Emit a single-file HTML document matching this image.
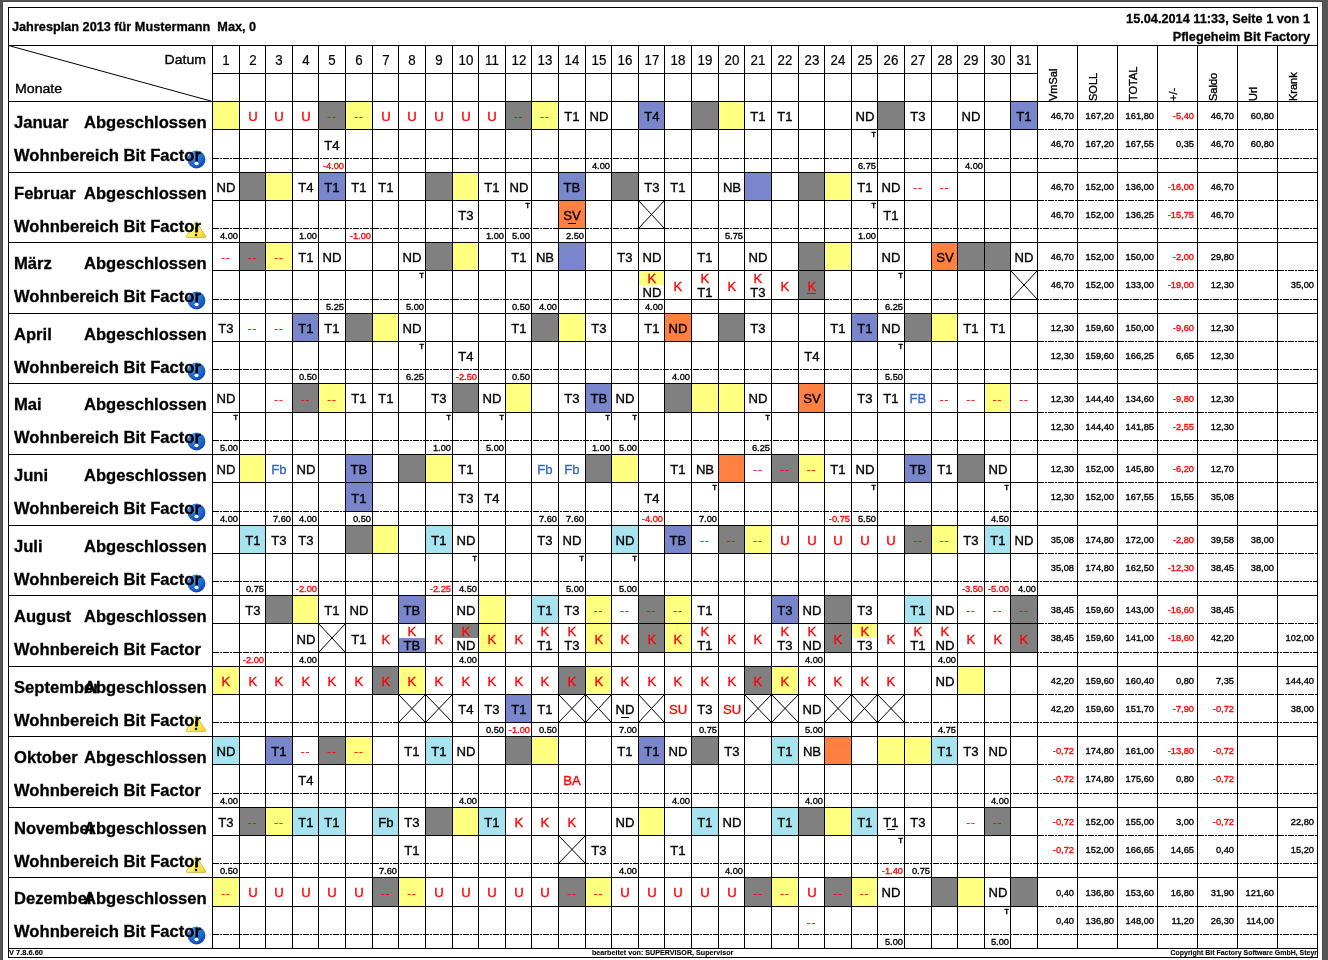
<!DOCTYPE html><html><head><meta charset="utf-8"><title>Jahresplan</title><style>html,body{margin:0;padding:0}
body{width:1328px;height:960px;background:#555;overflow:hidden;position:relative;font-family:"Liberation Sans",sans-serif;color:#000}
#pg{position:absolute;left:0;top:0;width:1328px;height:960px;will-change:transform}
.r{position:absolute}
.t{position:absolute;white-space:nowrap;-webkit-text-stroke:0.35px}
.s{-webkit-text-stroke:0.35px}
.b{-webkit-text-stroke:0.3px}
.f{-webkit-text-stroke:0.1px}
.m{-webkit-text-stroke:0.2px}
.n{-webkit-text-stroke:0;transform:scaleY(0.82)}
.d{position:absolute;height:1px;background:repeating-linear-gradient(90deg,#000 0,#000 6px,transparent 6px,transparent 7px,#000 7px,#000 9px,transparent 9px,transparent 10px)}
.rot{transform-origin:0 0;transform:rotate(-90deg) translate(0,-100%)}
u{text-decoration:underline;text-underline-offset:1.5px;text-decoration-thickness:1.1px}
</style></head><body><div id="pg"><div class="r" style="left:2px;top:1px;width:1321px;height:959px;background:#484848"></div>
<div class="r" style="left:3px;top:2px;width:1319px;height:958px;background:#fff"></div>
<div class="r" style="left:213px;top:102px;width:26px;height:27px;background:#ffff80"></div>
<div class="r" style="left:319px;top:102px;width:26px;height:27px;background:#808080"></div>
<div class="r" style="left:346px;top:102px;width:26px;height:27px;background:#ffff80"></div>
<div class="r" style="left:506px;top:102px;width:25px;height:27px;background:#808080"></div>
<div class="r" style="left:532px;top:102px;width:26px;height:27px;background:#ffff80"></div>
<div class="r" style="left:639px;top:102px;width:25px;height:27px;background:#7986cb"></div>
<div class="r" style="left:692px;top:102px;width:26px;height:27px;background:#808080"></div>
<div class="r" style="left:719px;top:102px;width:25px;height:27px;background:#ffff80"></div>
<div class="r" style="left:878px;top:102px;width:26px;height:27px;background:#808080"></div>
<div class="r" style="left:1011px;top:102px;width:26px;height:27px;background:#7986cb"></div>
<div class="r" style="left:240px;top:173px;width:25px;height:27px;background:#808080"></div>
<div class="r" style="left:266px;top:173px;width:26px;height:27px;background:#ffff80"></div>
<div class="r" style="left:319px;top:173px;width:26px;height:27px;background:#7986cb"></div>
<div class="r" style="left:426px;top:173px;width:26px;height:27px;background:#808080"></div>
<div class="r" style="left:453px;top:173px;width:25px;height:27px;background:#ffff80"></div>
<div class="r" style="left:559px;top:173px;width:26px;height:27px;background:#7986cb"></div>
<div class="r" style="left:612px;top:173px;width:26px;height:27px;background:#808080"></div>
<div class="r" style="left:745px;top:173px;width:26px;height:27px;background:#7986cb"></div>
<div class="r" style="left:799px;top:173px;width:25px;height:27px;background:#808080"></div>
<div class="r" style="left:825px;top:173px;width:26px;height:27px;background:#ffff80"></div>
<div class="r" style="left:559px;top:201px;width:26px;height:27px;background:#ff8040"></div>
<div class="r" style="left:240px;top:243px;width:25px;height:27px;background:#808080"></div>
<div class="r" style="left:266px;top:243px;width:26px;height:27px;background:#ffff80"></div>
<div class="r" style="left:426px;top:243px;width:26px;height:27px;background:#808080"></div>
<div class="r" style="left:453px;top:243px;width:25px;height:27px;background:#ffff80"></div>
<div class="r" style="left:559px;top:243px;width:26px;height:27px;background:#7986cb"></div>
<div class="r" style="left:799px;top:243px;width:25px;height:27px;background:#808080"></div>
<div class="r" style="left:825px;top:243px;width:26px;height:27px;background:#ffff80"></div>
<div class="r" style="left:932px;top:243px;width:25px;height:27px;background:#ff8040"></div>
<div class="r" style="left:958px;top:243px;width:26px;height:27px;background:#808080"></div>
<div class="r" style="left:985px;top:243px;width:25px;height:27px;background:#808080"></div>
<div class="r" style="left:639px;top:271px;width:25px;height:14px;background:#ffff80"></div>
<div class="r" style="left:799px;top:271px;width:25px;height:28px;background:#808080"></div>
<div class="r" style="left:293px;top:314px;width:25px;height:27px;background:#7986cb"></div>
<div class="r" style="left:346px;top:314px;width:26px;height:27px;background:#808080"></div>
<div class="r" style="left:373px;top:314px;width:25px;height:27px;background:#ffff80"></div>
<div class="r" style="left:532px;top:314px;width:26px;height:27px;background:#808080"></div>
<div class="r" style="left:559px;top:314px;width:26px;height:27px;background:#ffff80"></div>
<div class="r" style="left:665px;top:314px;width:26px;height:27px;background:#ff8040"></div>
<div class="r" style="left:719px;top:314px;width:25px;height:27px;background:#808080"></div>
<div class="r" style="left:852px;top:314px;width:25px;height:27px;background:#7986cb"></div>
<div class="r" style="left:905px;top:314px;width:26px;height:27px;background:#808080"></div>
<div class="r" style="left:932px;top:314px;width:25px;height:27px;background:#ffff80"></div>
<div class="r" style="left:293px;top:384px;width:25px;height:28px;background:#808080"></div>
<div class="r" style="left:319px;top:384px;width:26px;height:28px;background:#ffff80"></div>
<div class="r" style="left:453px;top:384px;width:25px;height:28px;background:#808080"></div>
<div class="r" style="left:506px;top:384px;width:25px;height:28px;background:#ffff80"></div>
<div class="r" style="left:586px;top:384px;width:25px;height:28px;background:#7986cb"></div>
<div class="r" style="left:665px;top:384px;width:26px;height:28px;background:#808080"></div>
<div class="r" style="left:692px;top:384px;width:26px;height:28px;background:#ffff80"></div>
<div class="r" style="left:719px;top:384px;width:25px;height:28px;background:#ffff80"></div>
<div class="r" style="left:799px;top:384px;width:25px;height:28px;background:#ff8040"></div>
<div class="r" style="left:985px;top:384px;width:25px;height:28px;background:#ffff80"></div>
<div class="r" style="left:240px;top:455px;width:25px;height:27px;background:#ffff80"></div>
<div class="r" style="left:346px;top:455px;width:26px;height:27px;background:#7986cb"></div>
<div class="r" style="left:399px;top:455px;width:26px;height:27px;background:#808080"></div>
<div class="r" style="left:426px;top:455px;width:26px;height:27px;background:#ffff80"></div>
<div class="r" style="left:586px;top:455px;width:25px;height:27px;background:#808080"></div>
<div class="r" style="left:612px;top:455px;width:26px;height:27px;background:#ffff80"></div>
<div class="r" style="left:719px;top:455px;width:25px;height:27px;background:#ff8040"></div>
<div class="r" style="left:772px;top:455px;width:26px;height:27px;background:#808080"></div>
<div class="r" style="left:799px;top:455px;width:25px;height:27px;background:#ffff80"></div>
<div class="r" style="left:905px;top:455px;width:26px;height:27px;background:#7986cb"></div>
<div class="r" style="left:958px;top:455px;width:26px;height:27px;background:#808080"></div>
<div class="r" style="left:346px;top:483px;width:26px;height:28px;background:#7986cb"></div>
<div class="r" style="left:240px;top:526px;width:25px;height:27px;background:#a8e4f0"></div>
<div class="r" style="left:346px;top:526px;width:26px;height:27px;background:#808080"></div>
<div class="r" style="left:373px;top:526px;width:25px;height:27px;background:#ffff80"></div>
<div class="r" style="left:426px;top:526px;width:26px;height:27px;background:#a8e4f0"></div>
<div class="r" style="left:612px;top:526px;width:26px;height:27px;background:#a8e4f0"></div>
<div class="r" style="left:665px;top:526px;width:26px;height:27px;background:#7986cb"></div>
<div class="r" style="left:719px;top:526px;width:25px;height:27px;background:#808080"></div>
<div class="r" style="left:745px;top:526px;width:26px;height:27px;background:#ffff80"></div>
<div class="r" style="left:905px;top:526px;width:26px;height:27px;background:#808080"></div>
<div class="r" style="left:932px;top:526px;width:25px;height:27px;background:#ffff80"></div>
<div class="r" style="left:985px;top:526px;width:25px;height:27px;background:#a8e4f0"></div>
<div class="r" style="left:266px;top:596px;width:26px;height:27px;background:#808080"></div>
<div class="r" style="left:293px;top:596px;width:25px;height:27px;background:#ffff80"></div>
<div class="r" style="left:399px;top:596px;width:26px;height:27px;background:#7986cb"></div>
<div class="r" style="left:479px;top:596px;width:26px;height:27px;background:#ffff80"></div>
<div class="r" style="left:532px;top:596px;width:26px;height:27px;background:#a8e4f0"></div>
<div class="r" style="left:586px;top:596px;width:25px;height:27px;background:#ffff80"></div>
<div class="r" style="left:639px;top:596px;width:25px;height:27px;background:#808080"></div>
<div class="r" style="left:665px;top:596px;width:26px;height:27px;background:#ffff80"></div>
<div class="r" style="left:772px;top:596px;width:26px;height:27px;background:#7986cb"></div>
<div class="r" style="left:825px;top:596px;width:26px;height:27px;background:#808080"></div>
<div class="r" style="left:905px;top:596px;width:26px;height:27px;background:#a8e4f0"></div>
<div class="r" style="left:1011px;top:596px;width:26px;height:27px;background:#808080"></div>
<div class="r" style="left:399px;top:638px;width:26px;height:14px;background:#7986cb"></div>
<div class="r" style="left:453px;top:624px;width:25px;height:14px;background:#808080"></div>
<div class="r" style="left:479px;top:624px;width:26px;height:28px;background:#ffff80"></div>
<div class="r" style="left:586px;top:624px;width:25px;height:28px;background:#ffff80"></div>
<div class="r" style="left:639px;top:624px;width:25px;height:28px;background:#808080"></div>
<div class="r" style="left:665px;top:624px;width:26px;height:28px;background:#ffff80"></div>
<div class="r" style="left:825px;top:624px;width:26px;height:28px;background:#808080"></div>
<div class="r" style="left:852px;top:624px;width:25px;height:14px;background:#ffff80"></div>
<div class="r" style="left:1011px;top:624px;width:26px;height:28px;background:#808080"></div>
<div class="r" style="left:213px;top:667px;width:26px;height:27px;background:#ffff80"></div>
<div class="r" style="left:373px;top:667px;width:25px;height:27px;background:#808080"></div>
<div class="r" style="left:399px;top:667px;width:26px;height:27px;background:#ffff80"></div>
<div class="r" style="left:559px;top:667px;width:26px;height:27px;background:#808080"></div>
<div class="r" style="left:586px;top:667px;width:25px;height:27px;background:#ffff80"></div>
<div class="r" style="left:745px;top:667px;width:26px;height:27px;background:#808080"></div>
<div class="r" style="left:772px;top:667px;width:26px;height:27px;background:#ffff80"></div>
<div class="r" style="left:958px;top:667px;width:26px;height:27px;background:#ffff80"></div>
<div class="r" style="left:506px;top:695px;width:25px;height:27px;background:#7986cb"></div>
<div class="r" style="left:213px;top:737px;width:26px;height:27px;background:#a8e4f0"></div>
<div class="r" style="left:266px;top:737px;width:26px;height:27px;background:#7986cb"></div>
<div class="r" style="left:319px;top:737px;width:26px;height:27px;background:#808080"></div>
<div class="r" style="left:346px;top:737px;width:26px;height:27px;background:#ffff80"></div>
<div class="r" style="left:426px;top:737px;width:26px;height:27px;background:#a8e4f0"></div>
<div class="r" style="left:506px;top:737px;width:25px;height:27px;background:#808080"></div>
<div class="r" style="left:532px;top:737px;width:26px;height:27px;background:#ffff80"></div>
<div class="r" style="left:639px;top:737px;width:25px;height:27px;background:#7986cb"></div>
<div class="r" style="left:692px;top:737px;width:26px;height:27px;background:#808080"></div>
<div class="r" style="left:772px;top:737px;width:26px;height:27px;background:#a8e4f0"></div>
<div class="r" style="left:825px;top:737px;width:26px;height:27px;background:#ff8040"></div>
<div class="r" style="left:878px;top:737px;width:26px;height:27px;background:#ffff80"></div>
<div class="r" style="left:905px;top:737px;width:26px;height:27px;background:#ffff80"></div>
<div class="r" style="left:932px;top:737px;width:25px;height:27px;background:#a8e4f0"></div>
<div class="r" style="left:240px;top:808px;width:25px;height:27px;background:#808080"></div>
<div class="r" style="left:266px;top:808px;width:26px;height:27px;background:#ffff80"></div>
<div class="r" style="left:293px;top:808px;width:25px;height:27px;background:#a8e4f0"></div>
<div class="r" style="left:319px;top:808px;width:26px;height:27px;background:#a8e4f0"></div>
<div class="r" style="left:373px;top:808px;width:25px;height:27px;background:#a8e4f0"></div>
<div class="r" style="left:426px;top:808px;width:26px;height:27px;background:#808080"></div>
<div class="r" style="left:453px;top:808px;width:25px;height:27px;background:#ffff80"></div>
<div class="r" style="left:479px;top:808px;width:26px;height:27px;background:#a8e4f0"></div>
<div class="r" style="left:639px;top:808px;width:25px;height:27px;background:#ffff80"></div>
<div class="r" style="left:692px;top:808px;width:26px;height:27px;background:#a8e4f0"></div>
<div class="r" style="left:772px;top:808px;width:26px;height:27px;background:#a8e4f0"></div>
<div class="r" style="left:799px;top:808px;width:25px;height:27px;background:#808080"></div>
<div class="r" style="left:825px;top:808px;width:26px;height:27px;background:#ffff80"></div>
<div class="r" style="left:852px;top:808px;width:25px;height:27px;background:#a8e4f0"></div>
<div class="r" style="left:985px;top:808px;width:25px;height:27px;background:#808080"></div>
<div class="r" style="left:213px;top:878px;width:26px;height:28px;background:#ffff80"></div>
<div class="r" style="left:373px;top:878px;width:25px;height:28px;background:#808080"></div>
<div class="r" style="left:399px;top:878px;width:26px;height:28px;background:#ffff80"></div>
<div class="r" style="left:559px;top:878px;width:26px;height:28px;background:#808080"></div>
<div class="r" style="left:586px;top:878px;width:25px;height:28px;background:#ffff80"></div>
<div class="r" style="left:745px;top:878px;width:26px;height:28px;background:#808080"></div>
<div class="r" style="left:772px;top:878px;width:26px;height:28px;background:#ffff80"></div>
<div class="r" style="left:825px;top:878px;width:26px;height:28px;background:#808080"></div>
<div class="r" style="left:852px;top:878px;width:25px;height:28px;background:#ffff80"></div>
<div class="r" style="left:932px;top:878px;width:25px;height:28px;background:#808080"></div>
<div class="r" style="left:958px;top:878px;width:26px;height:28px;background:#ffff80"></div>
<div class="r" style="left:1011px;top:878px;width:26px;height:28px;background:#808080"></div>
<div class="r" style="left:8px;top:7px;width:1310px;height:1px;background:#000"></div>
<div class="r" style="left:8px;top:957px;width:1310px;height:1px;background:#000"></div>
<div class="r" style="left:8px;top:7px;width:1px;height:951px;background:#000"></div>
<div class="r" style="left:1317px;top:7px;width:1px;height:951px;background:#000"></div>
<div class="r" style="left:8px;top:45px;width:1310px;height:1px;background:#000"></div>
<div class="r" style="left:212px;top:73px;width:826px;height:1px;background:#000"></div>
<div class="r" style="left:8px;top:101px;width:1310px;height:1px;background:#000"></div>
<div class="r" style="left:8px;top:948px;width:1310px;height:1px;background:#000"></div>
<div class="r" style="left:212px;top:45px;width:1px;height:904px;background:#000"></div>
<div class="r" style="left:239px;top:45px;width:1px;height:904px;background:#000"></div>
<div class="r" style="left:265px;top:45px;width:1px;height:904px;background:#000"></div>
<div class="r" style="left:292px;top:45px;width:1px;height:904px;background:#000"></div>
<div class="r" style="left:318px;top:45px;width:1px;height:904px;background:#000"></div>
<div class="r" style="left:345px;top:45px;width:1px;height:904px;background:#000"></div>
<div class="r" style="left:372px;top:45px;width:1px;height:904px;background:#000"></div>
<div class="r" style="left:398px;top:45px;width:1px;height:904px;background:#000"></div>
<div class="r" style="left:425px;top:45px;width:1px;height:904px;background:#000"></div>
<div class="r" style="left:452px;top:45px;width:1px;height:904px;background:#000"></div>
<div class="r" style="left:478px;top:45px;width:1px;height:904px;background:#000"></div>
<div class="r" style="left:505px;top:45px;width:1px;height:904px;background:#000"></div>
<div class="r" style="left:531px;top:45px;width:1px;height:904px;background:#000"></div>
<div class="r" style="left:558px;top:45px;width:1px;height:904px;background:#000"></div>
<div class="r" style="left:585px;top:45px;width:1px;height:904px;background:#000"></div>
<div class="r" style="left:611px;top:45px;width:1px;height:904px;background:#000"></div>
<div class="r" style="left:638px;top:45px;width:1px;height:904px;background:#000"></div>
<div class="r" style="left:664px;top:45px;width:1px;height:904px;background:#000"></div>
<div class="r" style="left:691px;top:45px;width:1px;height:904px;background:#000"></div>
<div class="r" style="left:718px;top:45px;width:1px;height:904px;background:#000"></div>
<div class="r" style="left:744px;top:45px;width:1px;height:904px;background:#000"></div>
<div class="r" style="left:771px;top:45px;width:1px;height:904px;background:#000"></div>
<div class="r" style="left:798px;top:45px;width:1px;height:904px;background:#000"></div>
<div class="r" style="left:824px;top:45px;width:1px;height:904px;background:#000"></div>
<div class="r" style="left:851px;top:45px;width:1px;height:904px;background:#000"></div>
<div class="r" style="left:877px;top:45px;width:1px;height:904px;background:#000"></div>
<div class="r" style="left:904px;top:45px;width:1px;height:904px;background:#000"></div>
<div class="r" style="left:931px;top:45px;width:1px;height:904px;background:#000"></div>
<div class="r" style="left:957px;top:45px;width:1px;height:904px;background:#000"></div>
<div class="r" style="left:984px;top:45px;width:1px;height:904px;background:#000"></div>
<div class="r" style="left:1010px;top:45px;width:1px;height:904px;background:#000"></div>
<div class="r" style="left:1037px;top:45px;width:1px;height:904px;background:#000"></div>
<div class="r" style="left:1077px;top:45px;width:1px;height:904px;background:#000"></div>
<div class="r" style="left:1117px;top:45px;width:1px;height:904px;background:#000"></div>
<div class="r" style="left:1157px;top:45px;width:1px;height:904px;background:#000"></div>
<div class="r" style="left:1197px;top:45px;width:1px;height:904px;background:#000"></div>
<div class="r" style="left:1237px;top:45px;width:1px;height:904px;background:#000"></div>
<div class="r" style="left:1277px;top:45px;width:1px;height:904px;background:#000"></div>
<div class="r" style="left:212px;top:129px;width:826px;height:1px;background:#000"></div>
<div class="d" style="left:1038px;top:129px;width:279px"></div>
<div class="d" style="left:213px;top:158px;width:1104px"></div>
<div class="r" style="left:8px;top:172px;width:1310px;height:1px;background:#000"></div>
<div class="r" style="left:212px;top:200px;width:826px;height:1px;background:#000"></div>
<div class="d" style="left:1038px;top:200px;width:279px"></div>
<div class="d" style="left:213px;top:228px;width:1104px"></div>
<div class="r" style="left:558px;top:228px;width:28px;height:1px;background:#000"></div>
<div class="r" style="left:638px;top:228px;width:27px;height:1px;background:#000"></div>
<div class="r" style="left:8px;top:242px;width:1310px;height:1px;background:#000"></div>
<div class="r" style="left:212px;top:270px;width:826px;height:1px;background:#000"></div>
<div class="d" style="left:1038px;top:270px;width:279px"></div>
<div class="d" style="left:213px;top:299px;width:1104px"></div>
<div class="r" style="left:638px;top:299px;width:27px;height:1px;background:#000"></div>
<div class="r" style="left:664px;top:299px;width:28px;height:1px;background:#000"></div>
<div class="r" style="left:691px;top:299px;width:28px;height:1px;background:#000"></div>
<div class="r" style="left:718px;top:299px;width:27px;height:1px;background:#000"></div>
<div class="r" style="left:744px;top:299px;width:28px;height:1px;background:#000"></div>
<div class="r" style="left:771px;top:299px;width:28px;height:1px;background:#000"></div>
<div class="r" style="left:798px;top:299px;width:27px;height:1px;background:#000"></div>
<div class="r" style="left:1010px;top:299px;width:28px;height:1px;background:#000"></div>
<div class="r" style="left:8px;top:313px;width:1310px;height:1px;background:#000"></div>
<div class="r" style="left:212px;top:341px;width:826px;height:1px;background:#000"></div>
<div class="d" style="left:1038px;top:341px;width:279px"></div>
<div class="d" style="left:213px;top:369px;width:1104px"></div>
<div class="r" style="left:8px;top:383px;width:1310px;height:1px;background:#000"></div>
<div class="r" style="left:212px;top:412px;width:826px;height:1px;background:#000"></div>
<div class="d" style="left:1038px;top:412px;width:279px"></div>
<div class="d" style="left:213px;top:440px;width:1104px"></div>
<div class="r" style="left:8px;top:454px;width:1310px;height:1px;background:#000"></div>
<div class="r" style="left:212px;top:482px;width:826px;height:1px;background:#000"></div>
<div class="d" style="left:1038px;top:482px;width:279px"></div>
<div class="d" style="left:213px;top:511px;width:1104px"></div>
<div class="r" style="left:345px;top:511px;width:28px;height:1px;background:#000"></div>
<div class="r" style="left:8px;top:525px;width:1310px;height:1px;background:#000"></div>
<div class="r" style="left:212px;top:553px;width:826px;height:1px;background:#000"></div>
<div class="d" style="left:1038px;top:553px;width:279px"></div>
<div class="d" style="left:213px;top:581px;width:1104px"></div>
<div class="r" style="left:8px;top:595px;width:1310px;height:1px;background:#000"></div>
<div class="r" style="left:212px;top:623px;width:826px;height:1px;background:#000"></div>
<div class="d" style="left:1038px;top:623px;width:279px"></div>
<div class="d" style="left:213px;top:652px;width:1104px"></div>
<div class="r" style="left:292px;top:652px;width:27px;height:1px;background:#000"></div>
<div class="r" style="left:318px;top:652px;width:28px;height:1px;background:#000"></div>
<div class="r" style="left:345px;top:652px;width:28px;height:1px;background:#000"></div>
<div class="r" style="left:372px;top:652px;width:27px;height:1px;background:#000"></div>
<div class="r" style="left:398px;top:652px;width:28px;height:1px;background:#000"></div>
<div class="r" style="left:425px;top:652px;width:28px;height:1px;background:#000"></div>
<div class="r" style="left:452px;top:652px;width:27px;height:1px;background:#000"></div>
<div class="r" style="left:478px;top:652px;width:28px;height:1px;background:#000"></div>
<div class="r" style="left:505px;top:652px;width:27px;height:1px;background:#000"></div>
<div class="r" style="left:531px;top:652px;width:28px;height:1px;background:#000"></div>
<div class="r" style="left:558px;top:652px;width:28px;height:1px;background:#000"></div>
<div class="r" style="left:585px;top:652px;width:27px;height:1px;background:#000"></div>
<div class="r" style="left:611px;top:652px;width:28px;height:1px;background:#000"></div>
<div class="r" style="left:638px;top:652px;width:27px;height:1px;background:#000"></div>
<div class="r" style="left:664px;top:652px;width:28px;height:1px;background:#000"></div>
<div class="r" style="left:691px;top:652px;width:28px;height:1px;background:#000"></div>
<div class="r" style="left:718px;top:652px;width:27px;height:1px;background:#000"></div>
<div class="r" style="left:744px;top:652px;width:28px;height:1px;background:#000"></div>
<div class="r" style="left:771px;top:652px;width:28px;height:1px;background:#000"></div>
<div class="r" style="left:798px;top:652px;width:27px;height:1px;background:#000"></div>
<div class="r" style="left:824px;top:652px;width:28px;height:1px;background:#000"></div>
<div class="r" style="left:851px;top:652px;width:27px;height:1px;background:#000"></div>
<div class="r" style="left:877px;top:652px;width:28px;height:1px;background:#000"></div>
<div class="r" style="left:904px;top:652px;width:28px;height:1px;background:#000"></div>
<div class="r" style="left:931px;top:652px;width:27px;height:1px;background:#000"></div>
<div class="r" style="left:957px;top:652px;width:28px;height:1px;background:#000"></div>
<div class="r" style="left:984px;top:652px;width:27px;height:1px;background:#000"></div>
<div class="r" style="left:1010px;top:652px;width:28px;height:1px;background:#000"></div>
<div class="r" style="left:8px;top:666px;width:1310px;height:1px;background:#000"></div>
<div class="r" style="left:212px;top:694px;width:826px;height:1px;background:#000"></div>
<div class="d" style="left:1038px;top:694px;width:279px"></div>
<div class="d" style="left:213px;top:722px;width:1104px"></div>
<div class="r" style="left:398px;top:722px;width:28px;height:1px;background:#000"></div>
<div class="r" style="left:425px;top:722px;width:28px;height:1px;background:#000"></div>
<div class="r" style="left:452px;top:722px;width:27px;height:1px;background:#000"></div>
<div class="r" style="left:478px;top:722px;width:28px;height:1px;background:#000"></div>
<div class="r" style="left:505px;top:722px;width:27px;height:1px;background:#000"></div>
<div class="r" style="left:531px;top:722px;width:28px;height:1px;background:#000"></div>
<div class="r" style="left:558px;top:722px;width:28px;height:1px;background:#000"></div>
<div class="r" style="left:585px;top:722px;width:27px;height:1px;background:#000"></div>
<div class="r" style="left:611px;top:722px;width:28px;height:1px;background:#000"></div>
<div class="r" style="left:638px;top:722px;width:27px;height:1px;background:#000"></div>
<div class="r" style="left:664px;top:722px;width:28px;height:1px;background:#000"></div>
<div class="r" style="left:691px;top:722px;width:28px;height:1px;background:#000"></div>
<div class="r" style="left:718px;top:722px;width:27px;height:1px;background:#000"></div>
<div class="r" style="left:744px;top:722px;width:28px;height:1px;background:#000"></div>
<div class="r" style="left:771px;top:722px;width:28px;height:1px;background:#000"></div>
<div class="r" style="left:798px;top:722px;width:27px;height:1px;background:#000"></div>
<div class="r" style="left:824px;top:722px;width:28px;height:1px;background:#000"></div>
<div class="r" style="left:851px;top:722px;width:27px;height:1px;background:#000"></div>
<div class="r" style="left:877px;top:722px;width:28px;height:1px;background:#000"></div>
<div class="r" style="left:8px;top:736px;width:1310px;height:1px;background:#000"></div>
<div class="r" style="left:212px;top:764px;width:826px;height:1px;background:#000"></div>
<div class="d" style="left:1038px;top:764px;width:279px"></div>
<div class="d" style="left:213px;top:793px;width:1104px"></div>
<div class="r" style="left:8px;top:807px;width:1310px;height:1px;background:#000"></div>
<div class="r" style="left:212px;top:835px;width:826px;height:1px;background:#000"></div>
<div class="d" style="left:1038px;top:835px;width:279px"></div>
<div class="d" style="left:213px;top:863px;width:1104px"></div>
<div class="r" style="left:558px;top:863px;width:28px;height:1px;background:#000"></div>
<div class="r" style="left:8px;top:877px;width:1310px;height:1px;background:#000"></div>
<div class="r" style="left:212px;top:906px;width:826px;height:1px;background:#000"></div>
<div class="d" style="left:1038px;top:906px;width:279px"></div>
<div class="d" style="left:213px;top:934px;width:1104px"></div>
<svg class="r" style="left:0;top:0" width="1328" height="960" viewBox="0 0 1328 960"><g stroke="#000" stroke-width="1" fill="none"><line x1="8.5" y1="45.5" x2="212.5" y2="101.5"/><line x1="638.5" y1="200.5" x2="664.5" y2="228.5"/><line x1="638.5" y1="228.5" x2="664.5" y2="200.5"/><line x1="1010.5" y1="270.5" x2="1037.5" y2="299.5"/><line x1="1010.5" y1="299.5" x2="1037.5" y2="270.5"/><line x1="318.5" y1="623.5" x2="345.5" y2="652.5"/><line x1="318.5" y1="652.5" x2="345.5" y2="623.5"/><line x1="398.5" y1="694.5" x2="425.5" y2="722.5"/><line x1="398.5" y1="722.5" x2="425.5" y2="694.5"/><line x1="425.5" y1="694.5" x2="452.5" y2="722.5"/><line x1="425.5" y1="722.5" x2="452.5" y2="694.5"/><line x1="558.5" y1="694.5" x2="585.5" y2="722.5"/><line x1="558.5" y1="722.5" x2="585.5" y2="694.5"/><line x1="585.5" y1="694.5" x2="611.5" y2="722.5"/><line x1="585.5" y1="722.5" x2="611.5" y2="694.5"/><line x1="638.5" y1="694.5" x2="664.5" y2="722.5"/><line x1="638.5" y1="722.5" x2="664.5" y2="694.5"/><line x1="744.5" y1="694.5" x2="771.5" y2="722.5"/><line x1="744.5" y1="722.5" x2="771.5" y2="694.5"/><line x1="771.5" y1="694.5" x2="798.5" y2="722.5"/><line x1="771.5" y1="722.5" x2="798.5" y2="694.5"/><line x1="824.5" y1="694.5" x2="851.5" y2="722.5"/><line x1="824.5" y1="722.5" x2="851.5" y2="694.5"/><line x1="851.5" y1="694.5" x2="877.5" y2="722.5"/><line x1="851.5" y1="722.5" x2="877.5" y2="694.5"/><line x1="877.5" y1="694.5" x2="904.5" y2="722.5"/><line x1="877.5" y1="722.5" x2="904.5" y2="694.5"/><line x1="558.5" y1="835.5" x2="585.5" y2="863.5"/><line x1="558.5" y1="863.5" x2="585.5" y2="835.5"/></g></svg>
<svg class="r" style="left:186.8px;top:149.7px;overflow:visible" width="19" height="19" viewBox="0 0 19 19"><defs><radialGradient id="g0" cx="0.36" cy="0.28" r="0.8"><stop offset="0" stop-color="#4a9af0"/><stop offset="0.5" stop-color="#1f6ed8"/><stop offset="0.85" stop-color="#1450b8"/><stop offset="1" stop-color="#0c3890"/></radialGradient></defs><circle cx="9.5" cy="9.5" r="8.9" fill="url(#g0)"/><ellipse cx="9.5" cy="13.5" rx="2.1" ry="1.7" fill="#fff"/></svg>
<svg class="r" style="left:185.3px;top:220.1px;overflow:visible" width="22" height="19" viewBox="0 0 22 19"><defs><linearGradient id="g1" x1="0.1" y1="0.2" x2="0.9" y2="1"><stop offset="0" stop-color="#fffce0"/><stop offset="0.45" stop-color="#fff35e"/><stop offset="1" stop-color="#f4cf2a"/></linearGradient></defs><path d="M11 1.2 L20.6 16.1 Q21.1 17.6 19.4 17.6 L2.6 17.6 Q0.9 17.6 1.4 16.1 Z" fill="url(#g1)" stroke="#c9a43a" stroke-width="0.7" stroke-linejoin="round"/><rect x="10.2" y="6.5" width="1.7" height="6" fill="#222"/><circle cx="11" cy="15" r="1.25" fill="#101020"/></svg>
<svg class="r" style="left:186.8px;top:290.7px;overflow:visible" width="19" height="19" viewBox="0 0 19 19"><defs><radialGradient id="g2" cx="0.36" cy="0.28" r="0.8"><stop offset="0" stop-color="#4a9af0"/><stop offset="0.5" stop-color="#1f6ed8"/><stop offset="0.85" stop-color="#1450b8"/><stop offset="1" stop-color="#0c3890"/></radialGradient></defs><circle cx="9.5" cy="9.5" r="8.9" fill="url(#g2)"/><ellipse cx="9.5" cy="13.5" rx="2.1" ry="1.7" fill="#fff"/></svg>
<svg class="r" style="left:186.8px;top:361.7px;overflow:visible" width="19" height="19" viewBox="0 0 19 19"><defs><radialGradient id="g3" cx="0.36" cy="0.28" r="0.8"><stop offset="0" stop-color="#4a9af0"/><stop offset="0.5" stop-color="#1f6ed8"/><stop offset="0.85" stop-color="#1450b8"/><stop offset="1" stop-color="#0c3890"/></radialGradient></defs><circle cx="9.5" cy="9.5" r="8.9" fill="url(#g3)"/><ellipse cx="9.5" cy="13.5" rx="2.1" ry="1.7" fill="#fff"/></svg>
<svg class="r" style="left:186.8px;top:431.7px;overflow:visible" width="19" height="19" viewBox="0 0 19 19"><defs><radialGradient id="g4" cx="0.36" cy="0.28" r="0.8"><stop offset="0" stop-color="#4a9af0"/><stop offset="0.5" stop-color="#1f6ed8"/><stop offset="0.85" stop-color="#1450b8"/><stop offset="1" stop-color="#0c3890"/></radialGradient></defs><circle cx="9.5" cy="9.5" r="8.9" fill="url(#g4)"/><ellipse cx="9.5" cy="13.5" rx="2.1" ry="1.7" fill="#fff"/></svg>
<svg class="r" style="left:186.8px;top:502.7px;overflow:visible" width="19" height="19" viewBox="0 0 19 19"><defs><radialGradient id="g5" cx="0.36" cy="0.28" r="0.8"><stop offset="0" stop-color="#4a9af0"/><stop offset="0.5" stop-color="#1f6ed8"/><stop offset="0.85" stop-color="#1450b8"/><stop offset="1" stop-color="#0c3890"/></radialGradient></defs><circle cx="9.5" cy="9.5" r="8.9" fill="url(#g5)"/><ellipse cx="9.5" cy="13.5" rx="2.1" ry="1.7" fill="#fff"/></svg>
<svg class="r" style="left:186.8px;top:573.7px;overflow:visible" width="19" height="19" viewBox="0 0 19 19"><defs><radialGradient id="g6" cx="0.36" cy="0.28" r="0.8"><stop offset="0" stop-color="#4a9af0"/><stop offset="0.5" stop-color="#1f6ed8"/><stop offset="0.85" stop-color="#1450b8"/><stop offset="1" stop-color="#0c3890"/></radialGradient></defs><circle cx="9.5" cy="9.5" r="8.9" fill="url(#g6)"/><ellipse cx="9.5" cy="13.5" rx="2.1" ry="1.7" fill="#fff"/></svg>
<svg class="r" style="left:185.3px;top:714.1px;overflow:visible" width="22" height="19" viewBox="0 0 22 19"><defs><linearGradient id="g8" x1="0.1" y1="0.2" x2="0.9" y2="1"><stop offset="0" stop-color="#fffce0"/><stop offset="0.45" stop-color="#fff35e"/><stop offset="1" stop-color="#f4cf2a"/></linearGradient></defs><path d="M11 1.2 L20.6 16.1 Q21.1 17.6 19.4 17.6 L2.6 17.6 Q0.9 17.6 1.4 16.1 Z" fill="url(#g8)" stroke="#c9a43a" stroke-width="0.7" stroke-linejoin="round"/><rect x="10.2" y="6.5" width="1.7" height="6" fill="#222"/><circle cx="11" cy="15" r="1.25" fill="#101020"/></svg>
<svg class="r" style="left:185.3px;top:855.1px;overflow:visible" width="22" height="19" viewBox="0 0 22 19"><defs><linearGradient id="g10" x1="0.1" y1="0.2" x2="0.9" y2="1"><stop offset="0" stop-color="#fffce0"/><stop offset="0.45" stop-color="#fff35e"/><stop offset="1" stop-color="#f4cf2a"/></linearGradient></defs><path d="M11 1.2 L20.6 16.1 Q21.1 17.6 19.4 17.6 L2.6 17.6 Q0.9 17.6 1.4 16.1 Z" fill="url(#g10)" stroke="#c9a43a" stroke-width="0.7" stroke-linejoin="round"/><rect x="10.2" y="6.5" width="1.7" height="6" fill="#222"/><circle cx="11" cy="15" r="1.25" fill="#101020"/></svg>
<svg class="r" style="left:186.8px;top:925.7px;overflow:visible" width="19" height="19" viewBox="0 0 19 19"><defs><radialGradient id="g11" cx="0.36" cy="0.28" r="0.8"><stop offset="0" stop-color="#4a9af0"/><stop offset="0.5" stop-color="#1f6ed8"/><stop offset="0.85" stop-color="#1450b8"/><stop offset="1" stop-color="#0c3890"/></radialGradient></defs><circle cx="9.5" cy="9.5" r="8.9" fill="url(#g11)"/><ellipse cx="9.5" cy="13.5" rx="2.1" ry="1.7" fill="#fff"/></svg>
<div class="t b " style="top:19.74px;font-size:13.3px;line-height:13.3px;font-weight:bold;left:12.00px;transform:scaleX(0.955);transform-origin:left center;">Jahresplan 2013 für Mustermann&nbsp; Max, 0</div>
<div class="t b " style="top:11.74px;font-size:13.3px;line-height:13.3px;font-weight:bold;left:1009.50px;width:300px;text-align:right;transform:scaleX(0.957);transform-origin:right center;">15.04.2014 11:33, Seite 1 von 1</div>
<div class="t b " style="top:29.94px;font-size:13.3px;line-height:13.3px;font-weight:bold;left:1009.50px;width:300px;text-align:right;transform:scaleX(0.953);transform-origin:right center;">Pflegeheim Bit Factory</div>
<div class="t " style="top:53.24px;font-size:13.3px;line-height:13.3px;left:125.50px;width:80px;text-align:right;transform:scaleX(1.058);transform-origin:right center;">Datum</div>
<div class="t " style="top:82.34px;font-size:13.3px;line-height:13.3px;left:15.00px;transform:scaleX(1.063);transform-origin:left center;">Monate</div>
<div class="t m" style="top:53.15px;font-size:14.0px;line-height:14.0px;left:211.00px;width:30px;text-align:center;transform:scaleX(0.95);transform-origin:center center;">1</div>
<div class="t m" style="top:53.15px;font-size:14.0px;line-height:14.0px;left:237.50px;width:30px;text-align:center;transform:scaleX(0.95);transform-origin:center center;">2</div>
<div class="t m" style="top:53.15px;font-size:14.0px;line-height:14.0px;left:264.00px;width:30px;text-align:center;transform:scaleX(0.95);transform-origin:center center;">3</div>
<div class="t m" style="top:53.15px;font-size:14.0px;line-height:14.0px;left:290.50px;width:30px;text-align:center;transform:scaleX(0.95);transform-origin:center center;">4</div>
<div class="t m" style="top:53.15px;font-size:14.0px;line-height:14.0px;left:317.00px;width:30px;text-align:center;transform:scaleX(0.95);transform-origin:center center;">5</div>
<div class="t m" style="top:53.15px;font-size:14.0px;line-height:14.0px;left:344.00px;width:30px;text-align:center;transform:scaleX(0.95);transform-origin:center center;">6</div>
<div class="t m" style="top:53.15px;font-size:14.0px;line-height:14.0px;left:370.50px;width:30px;text-align:center;transform:scaleX(0.95);transform-origin:center center;">7</div>
<div class="t m" style="top:53.15px;font-size:14.0px;line-height:14.0px;left:397.00px;width:30px;text-align:center;transform:scaleX(0.95);transform-origin:center center;">8</div>
<div class="t m" style="top:53.15px;font-size:14.0px;line-height:14.0px;left:424.00px;width:30px;text-align:center;transform:scaleX(0.95);transform-origin:center center;">9</div>
<div class="t m" style="top:53.15px;font-size:14.0px;line-height:14.0px;left:450.50px;width:30px;text-align:center;transform:scaleX(0.95);transform-origin:center center;">10</div>
<div class="t m" style="top:53.15px;font-size:14.0px;line-height:14.0px;left:477.00px;width:30px;text-align:center;transform:scaleX(0.95);transform-origin:center center;">11</div>
<div class="t m" style="top:53.15px;font-size:14.0px;line-height:14.0px;left:503.50px;width:30px;text-align:center;transform:scaleX(0.95);transform-origin:center center;">12</div>
<div class="t m" style="top:53.15px;font-size:14.0px;line-height:14.0px;left:530.00px;width:30px;text-align:center;transform:scaleX(0.95);transform-origin:center center;">13</div>
<div class="t m" style="top:53.15px;font-size:14.0px;line-height:14.0px;left:557.00px;width:30px;text-align:center;transform:scaleX(0.95);transform-origin:center center;">14</div>
<div class="t m" style="top:53.15px;font-size:14.0px;line-height:14.0px;left:583.50px;width:30px;text-align:center;transform:scaleX(0.95);transform-origin:center center;">15</div>
<div class="t m" style="top:53.15px;font-size:14.0px;line-height:14.0px;left:610.00px;width:30px;text-align:center;transform:scaleX(0.95);transform-origin:center center;">16</div>
<div class="t m" style="top:53.15px;font-size:14.0px;line-height:14.0px;left:636.50px;width:30px;text-align:center;transform:scaleX(0.95);transform-origin:center center;">17</div>
<div class="t m" style="top:53.15px;font-size:14.0px;line-height:14.0px;left:663.00px;width:30px;text-align:center;transform:scaleX(0.95);transform-origin:center center;">18</div>
<div class="t m" style="top:53.15px;font-size:14.0px;line-height:14.0px;left:690.00px;width:30px;text-align:center;transform:scaleX(0.95);transform-origin:center center;">19</div>
<div class="t m" style="top:53.15px;font-size:14.0px;line-height:14.0px;left:716.50px;width:30px;text-align:center;transform:scaleX(0.95);transform-origin:center center;">20</div>
<div class="t m" style="top:53.15px;font-size:14.0px;line-height:14.0px;left:743.00px;width:30px;text-align:center;transform:scaleX(0.95);transform-origin:center center;">21</div>
<div class="t m" style="top:53.15px;font-size:14.0px;line-height:14.0px;left:770.00px;width:30px;text-align:center;transform:scaleX(0.95);transform-origin:center center;">22</div>
<div class="t m" style="top:53.15px;font-size:14.0px;line-height:14.0px;left:796.50px;width:30px;text-align:center;transform:scaleX(0.95);transform-origin:center center;">23</div>
<div class="t m" style="top:53.15px;font-size:14.0px;line-height:14.0px;left:823.00px;width:30px;text-align:center;transform:scaleX(0.95);transform-origin:center center;">24</div>
<div class="t m" style="top:53.15px;font-size:14.0px;line-height:14.0px;left:849.50px;width:30px;text-align:center;transform:scaleX(0.95);transform-origin:center center;">25</div>
<div class="t m" style="top:53.15px;font-size:14.0px;line-height:14.0px;left:876.00px;width:30px;text-align:center;transform:scaleX(0.95);transform-origin:center center;">26</div>
<div class="t m" style="top:53.15px;font-size:14.0px;line-height:14.0px;left:903.00px;width:30px;text-align:center;transform:scaleX(0.95);transform-origin:center center;">27</div>
<div class="t m" style="top:53.15px;font-size:14.0px;line-height:14.0px;left:929.50px;width:30px;text-align:center;transform:scaleX(0.95);transform-origin:center center;">28</div>
<div class="t m" style="top:53.15px;font-size:14.0px;line-height:14.0px;left:956.00px;width:30px;text-align:center;transform:scaleX(0.95);transform-origin:center center;">29</div>
<div class="t m" style="top:53.15px;font-size:14.0px;line-height:14.0px;left:982.50px;width:30px;text-align:center;transform:scaleX(0.95);transform-origin:center center;">30</div>
<div class="t m" style="top:53.15px;font-size:14.0px;line-height:14.0px;left:1009.00px;width:30px;text-align:center;transform:scaleX(0.95);transform-origin:center center;">31</div>
<div class="t rot" style="left:1058.5px;top:101px;font-size:11px;line-height:11px">VmSal</div>
<div class="t rot" style="left:1098.5px;top:101px;font-size:11px;line-height:11px">SOLL</div>
<div class="t rot" style="left:1138.5px;top:101px;font-size:11px;line-height:11px">TOTAL</div>
<div class="t rot" style="left:1178.5px;top:101px;font-size:11px;line-height:11px">+/-</div>
<div class="t rot" style="left:1218.5px;top:101px;font-size:11px;line-height:11px">Saldo</div>
<div class="t rot" style="left:1258.5px;top:101px;font-size:11px;line-height:11px">Url</div>
<div class="t rot" style="left:1298.5px;top:101px;font-size:11px;line-height:11px">Krank</div>
<div class="t b " style="top:114.95px;font-size:16.6px;line-height:16.6px;font-weight:bold;left:14.00px;">Januar</div>
<div class="t b " style="top:114.95px;font-size:16.6px;line-height:16.6px;font-weight:bold;left:84.00px;">Abgeschlossen</div>
<div class="t b " style="top:147.85px;font-size:16.6px;line-height:16.6px;font-weight:bold;left:14.00px;">Wohnbereich Bit Factor</div>
<div class="t b " style="top:185.95px;font-size:16.6px;line-height:16.6px;font-weight:bold;left:14.00px;">Februar</div>
<div class="t b " style="top:185.95px;font-size:16.6px;line-height:16.6px;font-weight:bold;left:84.00px;">Abgeschlossen</div>
<div class="t b " style="top:218.85px;font-size:16.6px;line-height:16.6px;font-weight:bold;left:14.00px;">Wohnbereich Bit Factor</div>
<div class="t b " style="top:255.95px;font-size:16.6px;line-height:16.6px;font-weight:bold;left:14.00px;">März</div>
<div class="t b " style="top:255.95px;font-size:16.6px;line-height:16.6px;font-weight:bold;left:84.00px;">Abgeschlossen</div>
<div class="t b " style="top:288.85px;font-size:16.6px;line-height:16.6px;font-weight:bold;left:14.00px;">Wohnbereich Bit Factor</div>
<div class="t b " style="top:326.95px;font-size:16.6px;line-height:16.6px;font-weight:bold;left:14.00px;">April</div>
<div class="t b " style="top:326.95px;font-size:16.6px;line-height:16.6px;font-weight:bold;left:84.00px;">Abgeschlossen</div>
<div class="t b " style="top:359.85px;font-size:16.6px;line-height:16.6px;font-weight:bold;left:14.00px;">Wohnbereich Bit Factor</div>
<div class="t b " style="top:396.95px;font-size:16.6px;line-height:16.6px;font-weight:bold;left:14.00px;">Mai</div>
<div class="t b " style="top:396.95px;font-size:16.6px;line-height:16.6px;font-weight:bold;left:84.00px;">Abgeschlossen</div>
<div class="t b " style="top:429.85px;font-size:16.6px;line-height:16.6px;font-weight:bold;left:14.00px;">Wohnbereich Bit Factor</div>
<div class="t b " style="top:467.95px;font-size:16.6px;line-height:16.6px;font-weight:bold;left:14.00px;">Juni</div>
<div class="t b " style="top:467.95px;font-size:16.6px;line-height:16.6px;font-weight:bold;left:84.00px;">Abgeschlossen</div>
<div class="t b " style="top:500.85px;font-size:16.6px;line-height:16.6px;font-weight:bold;left:14.00px;">Wohnbereich Bit Factor</div>
<div class="t b " style="top:538.95px;font-size:16.6px;line-height:16.6px;font-weight:bold;left:14.00px;">Juli</div>
<div class="t b " style="top:538.95px;font-size:16.6px;line-height:16.6px;font-weight:bold;left:84.00px;">Abgeschlossen</div>
<div class="t b " style="top:571.85px;font-size:16.6px;line-height:16.6px;font-weight:bold;left:14.00px;">Wohnbereich Bit Factor</div>
<div class="t b " style="top:608.95px;font-size:16.6px;line-height:16.6px;font-weight:bold;left:14.00px;">August</div>
<div class="t b " style="top:608.95px;font-size:16.6px;line-height:16.6px;font-weight:bold;left:84.00px;">Abgeschlossen</div>
<div class="t b " style="top:641.85px;font-size:16.6px;line-height:16.6px;font-weight:bold;left:14.00px;">Wohnbereich Bit Factor</div>
<div class="t b " style="top:679.95px;font-size:16.6px;line-height:16.6px;font-weight:bold;left:14.00px;">September</div>
<div class="t b " style="top:679.95px;font-size:16.6px;line-height:16.6px;font-weight:bold;left:84.00px;">Abgeschlossen</div>
<div class="t b " style="top:712.85px;font-size:16.6px;line-height:16.6px;font-weight:bold;left:14.00px;">Wohnbereich Bit Factor</div>
<div class="t b " style="top:749.95px;font-size:16.6px;line-height:16.6px;font-weight:bold;left:14.00px;">Oktober</div>
<div class="t b " style="top:749.95px;font-size:16.6px;line-height:16.6px;font-weight:bold;left:84.00px;">Abgeschlossen</div>
<div class="t b " style="top:782.85px;font-size:16.6px;line-height:16.6px;font-weight:bold;left:14.00px;">Wohnbereich Bit Factor</div>
<div class="t b " style="top:820.95px;font-size:16.6px;line-height:16.6px;font-weight:bold;left:14.00px;">November</div>
<div class="t b " style="top:820.95px;font-size:16.6px;line-height:16.6px;font-weight:bold;left:84.00px;">Abgeschlossen</div>
<div class="t b " style="top:853.85px;font-size:16.6px;line-height:16.6px;font-weight:bold;left:14.00px;">Wohnbereich Bit Factor</div>
<div class="t b " style="top:890.95px;font-size:16.6px;line-height:16.6px;font-weight:bold;left:14.00px;">Dezember</div>
<div class="t b " style="top:890.95px;font-size:16.6px;line-height:16.6px;font-weight:bold;left:84.00px;">Abgeschlossen</div>
<div class="t b " style="top:923.85px;font-size:16.6px;line-height:16.6px;font-weight:bold;left:14.00px;">Wohnbereich Bit Factor</div>
<div class="t " style="top:109.53px;font-size:13.5px;line-height:13.5px;color:#ff0000;left:232.50px;width:40px;text-align:center;transform:scaleX(0.97);transform-origin:center center;">U</div>
<div class="t " style="top:109.53px;font-size:13.5px;line-height:13.5px;color:#ff0000;left:259.00px;width:40px;text-align:center;transform:scaleX(0.97);transform-origin:center center;">U</div>
<div class="t " style="top:109.53px;font-size:13.5px;line-height:13.5px;color:#ff0000;left:285.50px;width:40px;text-align:center;transform:scaleX(0.97);transform-origin:center center;">U</div>
<div class="t n" style="top:110.25px;font-size:13.0px;line-height:13.0px;color:#ff0000;left:311.70px;width:40px;text-align:center;letter-spacing:0.3px;">--</div>
<div class="t n" style="top:110.25px;font-size:13.0px;line-height:13.0px;color:#ff0000;left:338.70px;width:40px;text-align:center;letter-spacing:0.3px;">--</div>
<div class="t " style="top:109.53px;font-size:13.5px;line-height:13.5px;color:#ff0000;left:365.50px;width:40px;text-align:center;transform:scaleX(0.97);transform-origin:center center;">U</div>
<div class="t " style="top:109.53px;font-size:13.5px;line-height:13.5px;color:#ff0000;left:392.00px;width:40px;text-align:center;transform:scaleX(0.97);transform-origin:center center;">U</div>
<div class="t " style="top:109.53px;font-size:13.5px;line-height:13.5px;color:#ff0000;left:419.00px;width:40px;text-align:center;transform:scaleX(0.97);transform-origin:center center;">U</div>
<div class="t " style="top:109.53px;font-size:13.5px;line-height:13.5px;color:#ff0000;left:445.50px;width:40px;text-align:center;transform:scaleX(0.97);transform-origin:center center;">U</div>
<div class="t " style="top:109.53px;font-size:13.5px;line-height:13.5px;color:#ff0000;left:472.00px;width:40px;text-align:center;transform:scaleX(0.97);transform-origin:center center;">U</div>
<div class="t n" style="top:110.25px;font-size:13.0px;line-height:13.0px;color:#ff0000;left:498.20px;width:40px;text-align:center;letter-spacing:0.3px;">--</div>
<div class="t n" style="top:110.25px;font-size:13.0px;line-height:13.0px;color:#ff0000;left:524.70px;width:40px;text-align:center;letter-spacing:0.3px;">--</div>
<div class="t " style="top:109.53px;font-size:13.5px;line-height:13.5px;left:552.00px;width:40px;text-align:center;transform:scaleX(0.97);transform-origin:center center;">T1</div>
<div class="t " style="top:109.53px;font-size:13.5px;line-height:13.5px;left:578.50px;width:40px;text-align:center;transform:scaleX(0.97);transform-origin:center center;">ND</div>
<div class="t " style="top:109.53px;font-size:13.5px;line-height:13.5px;left:631.50px;width:40px;text-align:center;transform:scaleX(0.97);transform-origin:center center;">T4</div>
<div class="t " style="top:109.53px;font-size:13.5px;line-height:13.5px;left:738.00px;width:40px;text-align:center;transform:scaleX(0.97);transform-origin:center center;">T1</div>
<div class="t " style="top:109.53px;font-size:13.5px;line-height:13.5px;left:765.00px;width:40px;text-align:center;transform:scaleX(0.97);transform-origin:center center;">T1</div>
<div class="t " style="top:109.53px;font-size:13.5px;line-height:13.5px;left:844.50px;width:40px;text-align:center;transform:scaleX(0.97);transform-origin:center center;">ND</div>
<div class="t " style="top:109.53px;font-size:13.5px;line-height:13.5px;left:898.00px;width:40px;text-align:center;transform:scaleX(0.97);transform-origin:center center;">T3</div>
<div class="t " style="top:109.53px;font-size:13.5px;line-height:13.5px;left:951.00px;width:40px;text-align:center;transform:scaleX(0.97);transform-origin:center center;">ND</div>
<div class="t " style="top:109.53px;font-size:13.5px;line-height:13.5px;left:1004.00px;width:40px;text-align:center;transform:scaleX(0.97);transform-origin:center center;">T1</div>
<div class="t " style="top:138.53px;font-size:13.5px;line-height:13.5px;left:312.00px;width:40px;text-align:center;transform:scaleX(0.97);transform-origin:center center;">T4</div>
<div class="t b " style="top:131.47px;font-size:7.0px;line-height:7.0px;font-weight:bold;left:855.80px;width:20px;text-align:right;">T</div>
<div class="t s" style="top:161.29px;font-size:9.7px;line-height:9.7px;color:#ff0000;left:304.40px;width:40px;text-align:right;transform:scaleX(0.96);transform-origin:right center;">-4.00</div>
<div class="t s" style="top:161.29px;font-size:9.7px;line-height:9.7px;left:570.40px;width:40px;text-align:right;transform:scaleX(0.96);transform-origin:right center;">4.00</div>
<div class="t s" style="top:161.29px;font-size:9.7px;line-height:9.7px;left:836.40px;width:40px;text-align:right;transform:scaleX(0.96);transform-origin:right center;">6.75</div>
<div class="t s" style="top:161.29px;font-size:9.7px;line-height:9.7px;left:943.40px;width:40px;text-align:right;transform:scaleX(0.96);transform-origin:right center;">4.00</div>
<div class="t s" style="top:111.49px;font-size:9.7px;line-height:9.7px;left:1034.00px;width:40px;text-align:right;transform:scaleX(0.96);transform-origin:right center;">46,70</div>
<div class="t s" style="top:111.49px;font-size:9.7px;line-height:9.7px;left:1074.00px;width:40px;text-align:right;transform:scaleX(0.96);transform-origin:right center;">167,20</div>
<div class="t s" style="top:111.49px;font-size:9.7px;line-height:9.7px;left:1114.00px;width:40px;text-align:right;transform:scaleX(0.96);transform-origin:right center;">161,80</div>
<div class="t s" style="top:111.49px;font-size:9.7px;line-height:9.7px;color:#ff0000;left:1154.00px;width:40px;text-align:right;transform:scaleX(0.96);transform-origin:right center;">-5,40</div>
<div class="t s" style="top:111.49px;font-size:9.7px;line-height:9.7px;left:1194.00px;width:40px;text-align:right;transform:scaleX(0.96);transform-origin:right center;">46,70</div>
<div class="t s" style="top:111.49px;font-size:9.7px;line-height:9.7px;left:1234.00px;width:40px;text-align:right;transform:scaleX(0.96);transform-origin:right center;">60,80</div>
<div class="t s" style="top:139.39px;font-size:9.7px;line-height:9.7px;left:1034.00px;width:40px;text-align:right;transform:scaleX(0.96);transform-origin:right center;">46,70</div>
<div class="t s" style="top:139.39px;font-size:9.7px;line-height:9.7px;left:1074.00px;width:40px;text-align:right;transform:scaleX(0.96);transform-origin:right center;">167,20</div>
<div class="t s" style="top:139.39px;font-size:9.7px;line-height:9.7px;left:1114.00px;width:40px;text-align:right;transform:scaleX(0.96);transform-origin:right center;">167,55</div>
<div class="t s" style="top:139.39px;font-size:9.7px;line-height:9.7px;left:1154.00px;width:40px;text-align:right;transform:scaleX(0.96);transform-origin:right center;">0,35</div>
<div class="t s" style="top:139.39px;font-size:9.7px;line-height:9.7px;left:1194.00px;width:40px;text-align:right;transform:scaleX(0.96);transform-origin:right center;">46,70</div>
<div class="t s" style="top:139.39px;font-size:9.7px;line-height:9.7px;left:1234.00px;width:40px;text-align:right;transform:scaleX(0.96);transform-origin:right center;">60,80</div>
<div class="t " style="top:180.53px;font-size:13.5px;line-height:13.5px;left:206.00px;width:40px;text-align:center;transform:scaleX(0.97);transform-origin:center center;">ND</div>
<div class="t " style="top:180.53px;font-size:13.5px;line-height:13.5px;left:285.50px;width:40px;text-align:center;transform:scaleX(0.97);transform-origin:center center;">T4</div>
<div class="t " style="top:180.53px;font-size:13.5px;line-height:13.5px;left:312.00px;width:40px;text-align:center;transform:scaleX(0.97);transform-origin:center center;">T1</div>
<div class="t " style="top:180.53px;font-size:13.5px;line-height:13.5px;left:339.00px;width:40px;text-align:center;transform:scaleX(0.97);transform-origin:center center;">T1</div>
<div class="t " style="top:180.53px;font-size:13.5px;line-height:13.5px;left:365.50px;width:40px;text-align:center;transform:scaleX(0.97);transform-origin:center center;">T1</div>
<div class="t " style="top:180.53px;font-size:13.5px;line-height:13.5px;left:472.00px;width:40px;text-align:center;transform:scaleX(0.97);transform-origin:center center;">T1</div>
<div class="t " style="top:180.53px;font-size:13.5px;line-height:13.5px;left:498.50px;width:40px;text-align:center;transform:scaleX(0.97);transform-origin:center center;">ND</div>
<div class="t " style="top:180.53px;font-size:13.5px;line-height:13.5px;left:552.00px;width:40px;text-align:center;transform:scaleX(0.97);transform-origin:center center;">TB</div>
<div class="t " style="top:180.53px;font-size:13.5px;line-height:13.5px;left:631.50px;width:40px;text-align:center;transform:scaleX(0.97);transform-origin:center center;">T3</div>
<div class="t " style="top:180.53px;font-size:13.5px;line-height:13.5px;left:658.00px;width:40px;text-align:center;transform:scaleX(0.97);transform-origin:center center;">T1</div>
<div class="t " style="top:180.53px;font-size:13.5px;line-height:13.5px;left:711.50px;width:40px;text-align:center;transform:scaleX(0.97);transform-origin:center center;">NB</div>
<div class="t " style="top:180.53px;font-size:13.5px;line-height:13.5px;left:844.50px;width:40px;text-align:center;transform:scaleX(0.97);transform-origin:center center;">T1</div>
<div class="t " style="top:180.53px;font-size:13.5px;line-height:13.5px;left:871.00px;width:40px;text-align:center;transform:scaleX(0.97);transform-origin:center center;">ND</div>
<div class="t n" style="top:181.25px;font-size:13.0px;line-height:13.0px;color:#ff0000;left:897.70px;width:40px;text-align:center;letter-spacing:0.3px;">--</div>
<div class="t n" style="top:181.25px;font-size:13.0px;line-height:13.0px;color:#ff0000;left:924.20px;width:40px;text-align:center;letter-spacing:0.3px;">--</div>
<div class="t " style="top:209.03px;font-size:13.5px;line-height:13.5px;left:445.50px;width:40px;text-align:center;transform:scaleX(0.97);transform-origin:center center;">T3</div>
<div class="t b " style="top:202.47px;font-size:7.0px;line-height:7.0px;font-weight:bold;left:509.80px;width:20px;text-align:right;">T</div>
<div class="t " style="top:209.03px;font-size:13.5px;line-height:13.5px;left:552.00px;width:40px;text-align:center;transform:scaleX(0.97);transform-origin:center center;">SV</div>
<div class="r" style="left:567.6px;top:222.5px;width:8.6px;height:1.1px;background:#000"></div>
<div class="t b " style="top:202.47px;font-size:7.0px;line-height:7.0px;font-weight:bold;left:855.80px;width:20px;text-align:right;">T</div>
<div class="t " style="top:209.03px;font-size:13.5px;line-height:13.5px;left:871.00px;width:40px;text-align:center;transform:scaleX(0.97);transform-origin:center center;">T1</div>
<div class="t s" style="top:231.29px;font-size:9.7px;line-height:9.7px;left:198.40px;width:40px;text-align:right;transform:scaleX(0.96);transform-origin:right center;">4.00</div>
<div class="t s" style="top:231.29px;font-size:9.7px;line-height:9.7px;left:277.40px;width:40px;text-align:right;transform:scaleX(0.96);transform-origin:right center;">1.00</div>
<div class="t s" style="top:231.29px;font-size:9.7px;line-height:9.7px;color:#ff0000;left:331.40px;width:40px;text-align:right;transform:scaleX(0.96);transform-origin:right center;">-1.00</div>
<div class="t s" style="top:231.29px;font-size:9.7px;line-height:9.7px;left:464.40px;width:40px;text-align:right;transform:scaleX(0.96);transform-origin:right center;">1.00</div>
<div class="t s" style="top:231.29px;font-size:9.7px;line-height:9.7px;left:490.40px;width:40px;text-align:right;transform:scaleX(0.96);transform-origin:right center;">5.00</div>
<div class="t s" style="top:231.29px;font-size:9.7px;line-height:9.7px;left:544.40px;width:40px;text-align:right;transform:scaleX(0.96);transform-origin:right center;">2.50</div>
<div class="t s" style="top:231.29px;font-size:9.7px;line-height:9.7px;left:703.40px;width:40px;text-align:right;transform:scaleX(0.96);transform-origin:right center;">5.75</div>
<div class="t s" style="top:231.29px;font-size:9.7px;line-height:9.7px;left:836.40px;width:40px;text-align:right;transform:scaleX(0.96);transform-origin:right center;">1.00</div>
<div class="t s" style="top:182.49px;font-size:9.7px;line-height:9.7px;left:1034.00px;width:40px;text-align:right;transform:scaleX(0.96);transform-origin:right center;">46,70</div>
<div class="t s" style="top:182.49px;font-size:9.7px;line-height:9.7px;left:1074.00px;width:40px;text-align:right;transform:scaleX(0.96);transform-origin:right center;">152,00</div>
<div class="t s" style="top:182.49px;font-size:9.7px;line-height:9.7px;left:1114.00px;width:40px;text-align:right;transform:scaleX(0.96);transform-origin:right center;">136,00</div>
<div class="t s" style="top:182.49px;font-size:9.7px;line-height:9.7px;color:#ff0000;left:1154.00px;width:40px;text-align:right;transform:scaleX(0.96);transform-origin:right center;">-16,00</div>
<div class="t s" style="top:182.49px;font-size:9.7px;line-height:9.7px;left:1194.00px;width:40px;text-align:right;transform:scaleX(0.96);transform-origin:right center;">46,70</div>
<div class="t s" style="top:209.89px;font-size:9.7px;line-height:9.7px;left:1034.00px;width:40px;text-align:right;transform:scaleX(0.96);transform-origin:right center;">46,70</div>
<div class="t s" style="top:209.89px;font-size:9.7px;line-height:9.7px;left:1074.00px;width:40px;text-align:right;transform:scaleX(0.96);transform-origin:right center;">152,00</div>
<div class="t s" style="top:209.89px;font-size:9.7px;line-height:9.7px;left:1114.00px;width:40px;text-align:right;transform:scaleX(0.96);transform-origin:right center;">136,25</div>
<div class="t s" style="top:209.89px;font-size:9.7px;line-height:9.7px;color:#ff0000;left:1154.00px;width:40px;text-align:right;transform:scaleX(0.96);transform-origin:right center;">-15,75</div>
<div class="t s" style="top:209.89px;font-size:9.7px;line-height:9.7px;left:1194.00px;width:40px;text-align:right;transform:scaleX(0.96);transform-origin:right center;">46,70</div>
<div class="t n" style="top:251.25px;font-size:13.0px;line-height:13.0px;color:#ff0000;left:205.70px;width:40px;text-align:center;letter-spacing:0.3px;">--</div>
<div class="t n" style="top:251.25px;font-size:13.0px;line-height:13.0px;color:#ff0000;left:232.20px;width:40px;text-align:center;letter-spacing:0.3px;">--</div>
<div class="t n" style="top:251.25px;font-size:13.0px;line-height:13.0px;color:#ff0000;left:258.70px;width:40px;text-align:center;letter-spacing:0.3px;">--</div>
<div class="t " style="top:250.53px;font-size:13.5px;line-height:13.5px;left:285.50px;width:40px;text-align:center;transform:scaleX(0.97);transform-origin:center center;">T1</div>
<div class="t " style="top:250.53px;font-size:13.5px;line-height:13.5px;left:312.00px;width:40px;text-align:center;transform:scaleX(0.97);transform-origin:center center;">ND</div>
<div class="t " style="top:250.53px;font-size:13.5px;line-height:13.5px;left:392.00px;width:40px;text-align:center;transform:scaleX(0.97);transform-origin:center center;">ND</div>
<div class="t " style="top:250.53px;font-size:13.5px;line-height:13.5px;left:498.50px;width:40px;text-align:center;transform:scaleX(0.97);transform-origin:center center;">T1</div>
<div class="t " style="top:250.53px;font-size:13.5px;line-height:13.5px;left:525.00px;width:40px;text-align:center;transform:scaleX(0.97);transform-origin:center center;">NB</div>
<div class="t " style="top:250.53px;font-size:13.5px;line-height:13.5px;left:605.00px;width:40px;text-align:center;transform:scaleX(0.97);transform-origin:center center;">T3</div>
<div class="t " style="top:250.53px;font-size:13.5px;line-height:13.5px;left:631.50px;width:40px;text-align:center;transform:scaleX(0.97);transform-origin:center center;">ND</div>
<div class="t " style="top:250.53px;font-size:13.5px;line-height:13.5px;left:685.00px;width:40px;text-align:center;transform:scaleX(0.97);transform-origin:center center;">T1</div>
<div class="t " style="top:250.53px;font-size:13.5px;line-height:13.5px;left:738.00px;width:40px;text-align:center;transform:scaleX(0.97);transform-origin:center center;">ND</div>
<div class="t " style="top:250.53px;font-size:13.5px;line-height:13.5px;left:871.00px;width:40px;text-align:center;transform:scaleX(0.97);transform-origin:center center;">ND</div>
<div class="t " style="top:250.53px;font-size:13.5px;line-height:13.5px;left:924.50px;width:40px;text-align:center;transform:scaleX(0.97);transform-origin:center center;">SV</div>
<div class="t " style="top:250.53px;font-size:13.5px;line-height:13.5px;left:1004.00px;width:40px;text-align:center;transform:scaleX(0.97);transform-origin:center center;">ND</div>
<div class="t b " style="top:272.47px;font-size:7.0px;line-height:7.0px;font-weight:bold;left:403.80px;width:20px;text-align:right;">T</div>
<div class="t " style="top:272.33px;font-size:13.5px;line-height:13.5px;color:#ff0000;left:631.50px;width:40px;text-align:center;transform:scaleX(0.97);transform-origin:center center;">K</div>
<div class="t " style="top:286.33px;font-size:13.5px;line-height:13.5px;left:631.50px;width:40px;text-align:center;transform:scaleX(0.97);transform-origin:center center;">ND</div>
<div class="t " style="top:279.53px;font-size:13.5px;line-height:13.5px;color:#ff0000;left:658.00px;width:40px;text-align:center;transform:scaleX(0.97);transform-origin:center center;">K</div>
<div class="t " style="top:272.33px;font-size:13.5px;line-height:13.5px;color:#ff0000;left:685.00px;width:40px;text-align:center;transform:scaleX(0.97);transform-origin:center center;">K</div>
<div class="t " style="top:286.33px;font-size:13.5px;line-height:13.5px;left:685.00px;width:40px;text-align:center;transform:scaleX(0.97);transform-origin:center center;">T1</div>
<div class="t " style="top:279.53px;font-size:13.5px;line-height:13.5px;color:#ff0000;left:711.50px;width:40px;text-align:center;transform:scaleX(0.97);transform-origin:center center;">K</div>
<div class="t " style="top:272.33px;font-size:13.5px;line-height:13.5px;color:#ff0000;left:738.00px;width:40px;text-align:center;transform:scaleX(0.97);transform-origin:center center;">K</div>
<div class="t " style="top:286.33px;font-size:13.5px;line-height:13.5px;left:738.00px;width:40px;text-align:center;transform:scaleX(0.97);transform-origin:center center;">T3</div>
<div class="t " style="top:279.53px;font-size:13.5px;line-height:13.5px;color:#ff0000;left:765.00px;width:40px;text-align:center;transform:scaleX(0.97);transform-origin:center center;">K</div>
<div class="t " style="top:279.53px;font-size:13.5px;line-height:13.5px;color:#ff0000;left:791.50px;width:40px;text-align:center;transform:scaleX(0.97);transform-origin:center center;">K</div>
<div class="r" style="left:807.1px;top:293.0px;width:8.6px;height:1.1px;background:#ff0000"></div>
<div class="t b " style="top:272.47px;font-size:7.0px;line-height:7.0px;font-weight:bold;left:882.80px;width:20px;text-align:right;">T</div>
<div class="t s" style="top:302.29px;font-size:9.7px;line-height:9.7px;left:304.40px;width:40px;text-align:right;transform:scaleX(0.96);transform-origin:right center;">5.25</div>
<div class="t s" style="top:302.29px;font-size:9.7px;line-height:9.7px;left:384.40px;width:40px;text-align:right;transform:scaleX(0.96);transform-origin:right center;">5.00</div>
<div class="t s" style="top:302.29px;font-size:9.7px;line-height:9.7px;left:490.40px;width:40px;text-align:right;transform:scaleX(0.96);transform-origin:right center;">0.50</div>
<div class="t s" style="top:302.29px;font-size:9.7px;line-height:9.7px;left:517.40px;width:40px;text-align:right;transform:scaleX(0.96);transform-origin:right center;">4.00</div>
<div class="t s" style="top:302.29px;font-size:9.7px;line-height:9.7px;left:623.40px;width:40px;text-align:right;transform:scaleX(0.96);transform-origin:right center;">4.00</div>
<div class="t s" style="top:302.29px;font-size:9.7px;line-height:9.7px;left:863.40px;width:40px;text-align:right;transform:scaleX(0.96);transform-origin:right center;">6.25</div>
<div class="t s" style="top:252.49px;font-size:9.7px;line-height:9.7px;left:1034.00px;width:40px;text-align:right;transform:scaleX(0.96);transform-origin:right center;">46,70</div>
<div class="t s" style="top:252.49px;font-size:9.7px;line-height:9.7px;left:1074.00px;width:40px;text-align:right;transform:scaleX(0.96);transform-origin:right center;">152,00</div>
<div class="t s" style="top:252.49px;font-size:9.7px;line-height:9.7px;left:1114.00px;width:40px;text-align:right;transform:scaleX(0.96);transform-origin:right center;">150,00</div>
<div class="t s" style="top:252.49px;font-size:9.7px;line-height:9.7px;color:#ff0000;left:1154.00px;width:40px;text-align:right;transform:scaleX(0.96);transform-origin:right center;">-2,00</div>
<div class="t s" style="top:252.49px;font-size:9.7px;line-height:9.7px;left:1194.00px;width:40px;text-align:right;transform:scaleX(0.96);transform-origin:right center;">29,80</div>
<div class="t s" style="top:280.39px;font-size:9.7px;line-height:9.7px;left:1034.00px;width:40px;text-align:right;transform:scaleX(0.96);transform-origin:right center;">46,70</div>
<div class="t s" style="top:280.39px;font-size:9.7px;line-height:9.7px;left:1074.00px;width:40px;text-align:right;transform:scaleX(0.96);transform-origin:right center;">152,00</div>
<div class="t s" style="top:280.39px;font-size:9.7px;line-height:9.7px;left:1114.00px;width:40px;text-align:right;transform:scaleX(0.96);transform-origin:right center;">133,00</div>
<div class="t s" style="top:280.39px;font-size:9.7px;line-height:9.7px;color:#ff0000;left:1154.00px;width:40px;text-align:right;transform:scaleX(0.96);transform-origin:right center;">-19,00</div>
<div class="t s" style="top:280.39px;font-size:9.7px;line-height:9.7px;left:1194.00px;width:40px;text-align:right;transform:scaleX(0.96);transform-origin:right center;">12,30</div>
<div class="t s" style="top:280.39px;font-size:9.7px;line-height:9.7px;left:1274.00px;width:40px;text-align:right;transform:scaleX(0.96);transform-origin:right center;">35,00</div>
<div class="t " style="top:321.53px;font-size:13.5px;line-height:13.5px;left:206.00px;width:40px;text-align:center;transform:scaleX(0.97);transform-origin:center center;">T3</div>
<div class="t n" style="top:322.25px;font-size:13.0px;line-height:13.0px;color:#ff0000;left:232.20px;width:40px;text-align:center;letter-spacing:0.3px;">--</div>
<div class="t n" style="top:322.25px;font-size:13.0px;line-height:13.0px;color:#ff0000;left:258.70px;width:40px;text-align:center;letter-spacing:0.3px;">--</div>
<div class="t " style="top:321.53px;font-size:13.5px;line-height:13.5px;left:285.50px;width:40px;text-align:center;transform:scaleX(0.97);transform-origin:center center;">T1</div>
<div class="t " style="top:321.53px;font-size:13.5px;line-height:13.5px;left:312.00px;width:40px;text-align:center;transform:scaleX(0.97);transform-origin:center center;">T1</div>
<div class="t " style="top:321.53px;font-size:13.5px;line-height:13.5px;left:392.00px;width:40px;text-align:center;transform:scaleX(0.97);transform-origin:center center;">ND</div>
<div class="t " style="top:321.53px;font-size:13.5px;line-height:13.5px;left:498.50px;width:40px;text-align:center;transform:scaleX(0.97);transform-origin:center center;">T1</div>
<div class="t " style="top:321.53px;font-size:13.5px;line-height:13.5px;left:578.50px;width:40px;text-align:center;transform:scaleX(0.97);transform-origin:center center;">T3</div>
<div class="t " style="top:321.53px;font-size:13.5px;line-height:13.5px;left:631.50px;width:40px;text-align:center;transform:scaleX(0.97);transform-origin:center center;">T1</div>
<div class="t " style="top:321.53px;font-size:13.5px;line-height:13.5px;left:658.00px;width:40px;text-align:center;transform:scaleX(0.97);transform-origin:center center;">ND</div>
<div class="t " style="top:321.53px;font-size:13.5px;line-height:13.5px;left:738.00px;width:40px;text-align:center;transform:scaleX(0.97);transform-origin:center center;">T3</div>
<div class="t " style="top:321.53px;font-size:13.5px;line-height:13.5px;left:818.00px;width:40px;text-align:center;transform:scaleX(0.97);transform-origin:center center;">T1</div>
<div class="t " style="top:321.53px;font-size:13.5px;line-height:13.5px;left:844.50px;width:40px;text-align:center;transform:scaleX(0.97);transform-origin:center center;">T1</div>
<div class="t " style="top:321.53px;font-size:13.5px;line-height:13.5px;left:871.00px;width:40px;text-align:center;transform:scaleX(0.97);transform-origin:center center;">ND</div>
<div class="t " style="top:321.53px;font-size:13.5px;line-height:13.5px;left:951.00px;width:40px;text-align:center;transform:scaleX(0.97);transform-origin:center center;">T1</div>
<div class="t " style="top:321.53px;font-size:13.5px;line-height:13.5px;left:977.50px;width:40px;text-align:center;transform:scaleX(0.97);transform-origin:center center;">T1</div>
<div class="t b " style="top:343.47px;font-size:7.0px;line-height:7.0px;font-weight:bold;left:403.80px;width:20px;text-align:right;">T</div>
<div class="t " style="top:350.03px;font-size:13.5px;line-height:13.5px;left:445.50px;width:40px;text-align:center;transform:scaleX(0.97);transform-origin:center center;">T4</div>
<div class="t " style="top:350.03px;font-size:13.5px;line-height:13.5px;left:791.50px;width:40px;text-align:center;transform:scaleX(0.97);transform-origin:center center;">T4</div>
<div class="t b " style="top:343.47px;font-size:7.0px;line-height:7.0px;font-weight:bold;left:882.80px;width:20px;text-align:right;">T</div>
<div class="t s" style="top:372.29px;font-size:9.7px;line-height:9.7px;left:277.40px;width:40px;text-align:right;transform:scaleX(0.96);transform-origin:right center;">0.50</div>
<div class="t s" style="top:372.29px;font-size:9.7px;line-height:9.7px;left:384.40px;width:40px;text-align:right;transform:scaleX(0.96);transform-origin:right center;">6.25</div>
<div class="t s" style="top:372.29px;font-size:9.7px;line-height:9.7px;color:#ff0000;left:437.40px;width:40px;text-align:right;transform:scaleX(0.96);transform-origin:right center;">-2.50</div>
<div class="t s" style="top:372.29px;font-size:9.7px;line-height:9.7px;left:490.40px;width:40px;text-align:right;transform:scaleX(0.96);transform-origin:right center;">0.50</div>
<div class="t s" style="top:372.29px;font-size:9.7px;line-height:9.7px;left:650.40px;width:40px;text-align:right;transform:scaleX(0.96);transform-origin:right center;">4.00</div>
<div class="t s" style="top:372.29px;font-size:9.7px;line-height:9.7px;left:863.40px;width:40px;text-align:right;transform:scaleX(0.96);transform-origin:right center;">5.50</div>
<div class="t s" style="top:323.49px;font-size:9.7px;line-height:9.7px;left:1034.00px;width:40px;text-align:right;transform:scaleX(0.96);transform-origin:right center;">12,30</div>
<div class="t s" style="top:323.49px;font-size:9.7px;line-height:9.7px;left:1074.00px;width:40px;text-align:right;transform:scaleX(0.96);transform-origin:right center;">159,60</div>
<div class="t s" style="top:323.49px;font-size:9.7px;line-height:9.7px;left:1114.00px;width:40px;text-align:right;transform:scaleX(0.96);transform-origin:right center;">150,00</div>
<div class="t s" style="top:323.49px;font-size:9.7px;line-height:9.7px;color:#ff0000;left:1154.00px;width:40px;text-align:right;transform:scaleX(0.96);transform-origin:right center;">-9,60</div>
<div class="t s" style="top:323.49px;font-size:9.7px;line-height:9.7px;left:1194.00px;width:40px;text-align:right;transform:scaleX(0.96);transform-origin:right center;">12,30</div>
<div class="t s" style="top:350.89px;font-size:9.7px;line-height:9.7px;left:1034.00px;width:40px;text-align:right;transform:scaleX(0.96);transform-origin:right center;">12,30</div>
<div class="t s" style="top:350.89px;font-size:9.7px;line-height:9.7px;left:1074.00px;width:40px;text-align:right;transform:scaleX(0.96);transform-origin:right center;">159,60</div>
<div class="t s" style="top:350.89px;font-size:9.7px;line-height:9.7px;left:1114.00px;width:40px;text-align:right;transform:scaleX(0.96);transform-origin:right center;">166,25</div>
<div class="t s" style="top:350.89px;font-size:9.7px;line-height:9.7px;left:1154.00px;width:40px;text-align:right;transform:scaleX(0.96);transform-origin:right center;">6,65</div>
<div class="t s" style="top:350.89px;font-size:9.7px;line-height:9.7px;left:1194.00px;width:40px;text-align:right;transform:scaleX(0.96);transform-origin:right center;">12,30</div>
<div class="t " style="top:392.03px;font-size:13.5px;line-height:13.5px;left:206.00px;width:40px;text-align:center;transform:scaleX(0.97);transform-origin:center center;">ND</div>
<div class="t n" style="top:392.75px;font-size:13.0px;line-height:13.0px;color:#ff0000;left:258.70px;width:40px;text-align:center;letter-spacing:0.3px;">--</div>
<div class="t n" style="top:392.75px;font-size:13.0px;line-height:13.0px;color:#ff0000;left:285.20px;width:40px;text-align:center;letter-spacing:0.3px;">--</div>
<div class="t n" style="top:392.75px;font-size:13.0px;line-height:13.0px;color:#ff0000;left:311.70px;width:40px;text-align:center;letter-spacing:0.3px;">--</div>
<div class="t " style="top:392.03px;font-size:13.5px;line-height:13.5px;left:339.00px;width:40px;text-align:center;transform:scaleX(0.97);transform-origin:center center;">T1</div>
<div class="t " style="top:392.03px;font-size:13.5px;line-height:13.5px;left:365.50px;width:40px;text-align:center;transform:scaleX(0.97);transform-origin:center center;">T1</div>
<div class="t " style="top:392.03px;font-size:13.5px;line-height:13.5px;left:419.00px;width:40px;text-align:center;transform:scaleX(0.97);transform-origin:center center;">T3</div>
<div class="t " style="top:392.03px;font-size:13.5px;line-height:13.5px;left:472.00px;width:40px;text-align:center;transform:scaleX(0.97);transform-origin:center center;">ND</div>
<div class="t " style="top:392.03px;font-size:13.5px;line-height:13.5px;left:552.00px;width:40px;text-align:center;transform:scaleX(0.97);transform-origin:center center;">T3</div>
<div class="t " style="top:392.03px;font-size:13.5px;line-height:13.5px;left:578.50px;width:40px;text-align:center;transform:scaleX(0.97);transform-origin:center center;">TB</div>
<div class="t " style="top:392.03px;font-size:13.5px;line-height:13.5px;left:605.00px;width:40px;text-align:center;transform:scaleX(0.97);transform-origin:center center;">ND</div>
<div class="t " style="top:392.03px;font-size:13.5px;line-height:13.5px;left:738.00px;width:40px;text-align:center;transform:scaleX(0.97);transform-origin:center center;">ND</div>
<div class="t " style="top:392.03px;font-size:13.5px;line-height:13.5px;left:791.50px;width:40px;text-align:center;transform:scaleX(0.97);transform-origin:center center;">SV</div>
<div class="t " style="top:392.03px;font-size:13.5px;line-height:13.5px;left:844.50px;width:40px;text-align:center;transform:scaleX(0.97);transform-origin:center center;">T3</div>
<div class="t " style="top:392.03px;font-size:13.5px;line-height:13.5px;left:871.00px;width:40px;text-align:center;transform:scaleX(0.97);transform-origin:center center;">T1</div>
<div class="t " style="top:392.03px;font-size:13.5px;line-height:13.5px;color:#3366cc;left:898.00px;width:40px;text-align:center;transform:scaleX(0.97);transform-origin:center center;">FB</div>
<div class="t n" style="top:392.75px;font-size:13.0px;line-height:13.0px;color:#ff0000;left:924.20px;width:40px;text-align:center;letter-spacing:0.3px;">--</div>
<div class="t n" style="top:392.75px;font-size:13.0px;line-height:13.0px;color:#ff0000;left:950.70px;width:40px;text-align:center;letter-spacing:0.3px;">--</div>
<div class="t n" style="top:392.75px;font-size:13.0px;line-height:13.0px;color:#ff0000;left:977.20px;width:40px;text-align:center;letter-spacing:0.3px;">--</div>
<div class="t n" style="top:392.75px;font-size:13.0px;line-height:13.0px;color:#ff0000;left:1003.70px;width:40px;text-align:center;letter-spacing:0.3px;">--</div>
<div class="t b " style="top:414.47px;font-size:7.0px;line-height:7.0px;font-weight:bold;left:217.80px;width:20px;text-align:right;">T</div>
<div class="t b " style="top:414.47px;font-size:7.0px;line-height:7.0px;font-weight:bold;left:430.80px;width:20px;text-align:right;">T</div>
<div class="t b " style="top:414.47px;font-size:7.0px;line-height:7.0px;font-weight:bold;left:483.80px;width:20px;text-align:right;">T</div>
<div class="t b " style="top:414.47px;font-size:7.0px;line-height:7.0px;font-weight:bold;left:589.80px;width:20px;text-align:right;">T</div>
<div class="t b " style="top:414.47px;font-size:7.0px;line-height:7.0px;font-weight:bold;left:616.80px;width:20px;text-align:right;">T</div>
<div class="t b " style="top:414.47px;font-size:7.0px;line-height:7.0px;font-weight:bold;left:749.80px;width:20px;text-align:right;">T</div>
<div class="t s" style="top:443.29px;font-size:9.7px;line-height:9.7px;left:198.40px;width:40px;text-align:right;transform:scaleX(0.96);transform-origin:right center;">5.00</div>
<div class="t s" style="top:443.29px;font-size:9.7px;line-height:9.7px;left:411.40px;width:40px;text-align:right;transform:scaleX(0.96);transform-origin:right center;">1.00</div>
<div class="t s" style="top:443.29px;font-size:9.7px;line-height:9.7px;left:464.40px;width:40px;text-align:right;transform:scaleX(0.96);transform-origin:right center;">5.00</div>
<div class="t s" style="top:443.29px;font-size:9.7px;line-height:9.7px;left:570.40px;width:40px;text-align:right;transform:scaleX(0.96);transform-origin:right center;">1.00</div>
<div class="t s" style="top:443.29px;font-size:9.7px;line-height:9.7px;left:597.40px;width:40px;text-align:right;transform:scaleX(0.96);transform-origin:right center;">5.00</div>
<div class="t s" style="top:443.29px;font-size:9.7px;line-height:9.7px;left:730.40px;width:40px;text-align:right;transform:scaleX(0.96);transform-origin:right center;">6.25</div>
<div class="t s" style="top:393.99px;font-size:9.7px;line-height:9.7px;left:1034.00px;width:40px;text-align:right;transform:scaleX(0.96);transform-origin:right center;">12,30</div>
<div class="t s" style="top:393.99px;font-size:9.7px;line-height:9.7px;left:1074.00px;width:40px;text-align:right;transform:scaleX(0.96);transform-origin:right center;">144,40</div>
<div class="t s" style="top:393.99px;font-size:9.7px;line-height:9.7px;left:1114.00px;width:40px;text-align:right;transform:scaleX(0.96);transform-origin:right center;">134,60</div>
<div class="t s" style="top:393.99px;font-size:9.7px;line-height:9.7px;color:#ff0000;left:1154.00px;width:40px;text-align:right;transform:scaleX(0.96);transform-origin:right center;">-9,80</div>
<div class="t s" style="top:393.99px;font-size:9.7px;line-height:9.7px;left:1194.00px;width:40px;text-align:right;transform:scaleX(0.96);transform-origin:right center;">12,30</div>
<div class="t s" style="top:421.89px;font-size:9.7px;line-height:9.7px;left:1034.00px;width:40px;text-align:right;transform:scaleX(0.96);transform-origin:right center;">12,30</div>
<div class="t s" style="top:421.89px;font-size:9.7px;line-height:9.7px;left:1074.00px;width:40px;text-align:right;transform:scaleX(0.96);transform-origin:right center;">144,40</div>
<div class="t s" style="top:421.89px;font-size:9.7px;line-height:9.7px;left:1114.00px;width:40px;text-align:right;transform:scaleX(0.96);transform-origin:right center;">141,85</div>
<div class="t s" style="top:421.89px;font-size:9.7px;line-height:9.7px;color:#ff0000;left:1154.00px;width:40px;text-align:right;transform:scaleX(0.96);transform-origin:right center;">-2,55</div>
<div class="t s" style="top:421.89px;font-size:9.7px;line-height:9.7px;left:1194.00px;width:40px;text-align:right;transform:scaleX(0.96);transform-origin:right center;">12,30</div>
<div class="t " style="top:462.53px;font-size:13.5px;line-height:13.5px;left:206.00px;width:40px;text-align:center;transform:scaleX(0.97);transform-origin:center center;">ND</div>
<div class="t " style="top:462.53px;font-size:13.5px;line-height:13.5px;color:#3366cc;left:259.00px;width:40px;text-align:center;transform:scaleX(0.97);transform-origin:center center;">Fb</div>
<div class="t " style="top:462.53px;font-size:13.5px;line-height:13.5px;left:285.50px;width:40px;text-align:center;transform:scaleX(0.97);transform-origin:center center;">ND</div>
<div class="t " style="top:462.53px;font-size:13.5px;line-height:13.5px;left:339.00px;width:40px;text-align:center;transform:scaleX(0.97);transform-origin:center center;">TB</div>
<div class="t " style="top:462.53px;font-size:13.5px;line-height:13.5px;left:445.50px;width:40px;text-align:center;transform:scaleX(0.97);transform-origin:center center;">T1</div>
<div class="t " style="top:462.53px;font-size:13.5px;line-height:13.5px;color:#3366cc;left:525.00px;width:40px;text-align:center;transform:scaleX(0.97);transform-origin:center center;">Fb</div>
<div class="t " style="top:462.53px;font-size:13.5px;line-height:13.5px;color:#3366cc;left:552.00px;width:40px;text-align:center;transform:scaleX(0.97);transform-origin:center center;">Fb</div>
<div class="t " style="top:462.53px;font-size:13.5px;line-height:13.5px;left:658.00px;width:40px;text-align:center;transform:scaleX(0.97);transform-origin:center center;">T1</div>
<div class="t " style="top:462.53px;font-size:13.5px;line-height:13.5px;left:685.00px;width:40px;text-align:center;transform:scaleX(0.97);transform-origin:center center;">NB</div>
<div class="t n" style="top:463.25px;font-size:13.0px;line-height:13.0px;color:#ff0000;left:737.70px;width:40px;text-align:center;letter-spacing:0.3px;">--</div>
<div class="t n" style="top:463.25px;font-size:13.0px;line-height:13.0px;color:#ff0000;left:764.70px;width:40px;text-align:center;letter-spacing:0.3px;">--</div>
<div class="t n" style="top:463.25px;font-size:13.0px;line-height:13.0px;color:#ff0000;left:791.20px;width:40px;text-align:center;letter-spacing:0.3px;">--</div>
<div class="t " style="top:462.53px;font-size:13.5px;line-height:13.5px;left:818.00px;width:40px;text-align:center;transform:scaleX(0.97);transform-origin:center center;">T1</div>
<div class="t " style="top:462.53px;font-size:13.5px;line-height:13.5px;left:844.50px;width:40px;text-align:center;transform:scaleX(0.97);transform-origin:center center;">ND</div>
<div class="t " style="top:462.53px;font-size:13.5px;line-height:13.5px;left:898.00px;width:40px;text-align:center;transform:scaleX(0.97);transform-origin:center center;">TB</div>
<div class="t " style="top:462.53px;font-size:13.5px;line-height:13.5px;left:924.50px;width:40px;text-align:center;transform:scaleX(0.97);transform-origin:center center;">T1</div>
<div class="t " style="top:462.53px;font-size:13.5px;line-height:13.5px;left:977.50px;width:40px;text-align:center;transform:scaleX(0.97);transform-origin:center center;">ND</div>
<div class="t " style="top:491.53px;font-size:13.5px;line-height:13.5px;left:339.00px;width:40px;text-align:center;transform:scaleX(0.97);transform-origin:center center;">T1</div>
<div class="t " style="top:491.53px;font-size:13.5px;line-height:13.5px;left:445.50px;width:40px;text-align:center;transform:scaleX(0.97);transform-origin:center center;">T3</div>
<div class="t " style="top:491.53px;font-size:13.5px;line-height:13.5px;left:472.00px;width:40px;text-align:center;transform:scaleX(0.97);transform-origin:center center;">T4</div>
<div class="t " style="top:491.53px;font-size:13.5px;line-height:13.5px;left:631.50px;width:40px;text-align:center;transform:scaleX(0.97);transform-origin:center center;">T4</div>
<div class="t b " style="top:484.47px;font-size:7.0px;line-height:7.0px;font-weight:bold;left:696.80px;width:20px;text-align:right;">T</div>
<div class="t b " style="top:484.47px;font-size:7.0px;line-height:7.0px;font-weight:bold;left:855.80px;width:20px;text-align:right;">T</div>
<div class="t b " style="top:484.47px;font-size:7.0px;line-height:7.0px;font-weight:bold;left:988.80px;width:20px;text-align:right;">T</div>
<div class="t s" style="top:514.29px;font-size:9.7px;line-height:9.7px;left:198.40px;width:40px;text-align:right;transform:scaleX(0.96);transform-origin:right center;">4.00</div>
<div class="t s" style="top:514.29px;font-size:9.7px;line-height:9.7px;left:251.40px;width:40px;text-align:right;transform:scaleX(0.96);transform-origin:right center;">7.60</div>
<div class="t s" style="top:514.29px;font-size:9.7px;line-height:9.7px;left:277.40px;width:40px;text-align:right;transform:scaleX(0.96);transform-origin:right center;">4.00</div>
<div class="t s" style="top:514.29px;font-size:9.7px;line-height:9.7px;left:331.40px;width:40px;text-align:right;transform:scaleX(0.96);transform-origin:right center;">0.50</div>
<div class="t s" style="top:514.29px;font-size:9.7px;line-height:9.7px;left:517.40px;width:40px;text-align:right;transform:scaleX(0.96);transform-origin:right center;">7.60</div>
<div class="t s" style="top:514.29px;font-size:9.7px;line-height:9.7px;left:544.40px;width:40px;text-align:right;transform:scaleX(0.96);transform-origin:right center;">7.60</div>
<div class="t s" style="top:514.29px;font-size:9.7px;line-height:9.7px;color:#ff0000;left:623.40px;width:40px;text-align:right;transform:scaleX(0.96);transform-origin:right center;">-4.00</div>
<div class="t s" style="top:514.29px;font-size:9.7px;line-height:9.7px;left:677.40px;width:40px;text-align:right;transform:scaleX(0.96);transform-origin:right center;">7.00</div>
<div class="t s" style="top:514.29px;font-size:9.7px;line-height:9.7px;color:#ff0000;left:810.40px;width:40px;text-align:right;transform:scaleX(0.96);transform-origin:right center;">-0.75</div>
<div class="t s" style="top:514.29px;font-size:9.7px;line-height:9.7px;left:836.40px;width:40px;text-align:right;transform:scaleX(0.96);transform-origin:right center;">5.50</div>
<div class="t s" style="top:514.29px;font-size:9.7px;line-height:9.7px;left:969.40px;width:40px;text-align:right;transform:scaleX(0.96);transform-origin:right center;">4.50</div>
<div class="t s" style="top:464.49px;font-size:9.7px;line-height:9.7px;left:1034.00px;width:40px;text-align:right;transform:scaleX(0.96);transform-origin:right center;">12,30</div>
<div class="t s" style="top:464.49px;font-size:9.7px;line-height:9.7px;left:1074.00px;width:40px;text-align:right;transform:scaleX(0.96);transform-origin:right center;">152,00</div>
<div class="t s" style="top:464.49px;font-size:9.7px;line-height:9.7px;left:1114.00px;width:40px;text-align:right;transform:scaleX(0.96);transform-origin:right center;">145,80</div>
<div class="t s" style="top:464.49px;font-size:9.7px;line-height:9.7px;color:#ff0000;left:1154.00px;width:40px;text-align:right;transform:scaleX(0.96);transform-origin:right center;">-6,20</div>
<div class="t s" style="top:464.49px;font-size:9.7px;line-height:9.7px;left:1194.00px;width:40px;text-align:right;transform:scaleX(0.96);transform-origin:right center;">12,70</div>
<div class="t s" style="top:492.39px;font-size:9.7px;line-height:9.7px;left:1034.00px;width:40px;text-align:right;transform:scaleX(0.96);transform-origin:right center;">12,30</div>
<div class="t s" style="top:492.39px;font-size:9.7px;line-height:9.7px;left:1074.00px;width:40px;text-align:right;transform:scaleX(0.96);transform-origin:right center;">152,00</div>
<div class="t s" style="top:492.39px;font-size:9.7px;line-height:9.7px;left:1114.00px;width:40px;text-align:right;transform:scaleX(0.96);transform-origin:right center;">167,55</div>
<div class="t s" style="top:492.39px;font-size:9.7px;line-height:9.7px;left:1154.00px;width:40px;text-align:right;transform:scaleX(0.96);transform-origin:right center;">15,55</div>
<div class="t s" style="top:492.39px;font-size:9.7px;line-height:9.7px;left:1194.00px;width:40px;text-align:right;transform:scaleX(0.96);transform-origin:right center;">35,08</div>
<div class="t " style="top:533.53px;font-size:13.5px;line-height:13.5px;left:232.50px;width:40px;text-align:center;transform:scaleX(0.97);transform-origin:center center;">T1</div>
<div class="t " style="top:533.53px;font-size:13.5px;line-height:13.5px;left:259.00px;width:40px;text-align:center;transform:scaleX(0.97);transform-origin:center center;">T3</div>
<div class="t " style="top:533.53px;font-size:13.5px;line-height:13.5px;left:285.50px;width:40px;text-align:center;transform:scaleX(0.97);transform-origin:center center;">T3</div>
<div class="t " style="top:533.53px;font-size:13.5px;line-height:13.5px;left:419.00px;width:40px;text-align:center;transform:scaleX(0.97);transform-origin:center center;">T1</div>
<div class="t " style="top:533.53px;font-size:13.5px;line-height:13.5px;left:445.50px;width:40px;text-align:center;transform:scaleX(0.97);transform-origin:center center;">ND</div>
<div class="t " style="top:533.53px;font-size:13.5px;line-height:13.5px;left:525.00px;width:40px;text-align:center;transform:scaleX(0.97);transform-origin:center center;">T3</div>
<div class="t " style="top:533.53px;font-size:13.5px;line-height:13.5px;left:552.00px;width:40px;text-align:center;transform:scaleX(0.97);transform-origin:center center;">ND</div>
<div class="t " style="top:533.53px;font-size:13.5px;line-height:13.5px;left:605.00px;width:40px;text-align:center;transform:scaleX(0.97);transform-origin:center center;">ND</div>
<div class="t " style="top:533.53px;font-size:13.5px;line-height:13.5px;left:658.00px;width:40px;text-align:center;transform:scaleX(0.97);transform-origin:center center;">TB</div>
<div class="t n" style="top:534.25px;font-size:13.0px;line-height:13.0px;color:#ff0000;left:684.70px;width:40px;text-align:center;letter-spacing:0.3px;">--</div>
<div class="t n" style="top:534.25px;font-size:13.0px;line-height:13.0px;color:#ff0000;left:711.20px;width:40px;text-align:center;letter-spacing:0.3px;">--</div>
<div class="t n" style="top:534.25px;font-size:13.0px;line-height:13.0px;color:#ff0000;left:737.70px;width:40px;text-align:center;letter-spacing:0.3px;">--</div>
<div class="t " style="top:533.53px;font-size:13.5px;line-height:13.5px;color:#ff0000;left:765.00px;width:40px;text-align:center;transform:scaleX(0.97);transform-origin:center center;">U</div>
<div class="t " style="top:533.53px;font-size:13.5px;line-height:13.5px;color:#ff0000;left:791.50px;width:40px;text-align:center;transform:scaleX(0.97);transform-origin:center center;">U</div>
<div class="t " style="top:533.53px;font-size:13.5px;line-height:13.5px;color:#ff0000;left:818.00px;width:40px;text-align:center;transform:scaleX(0.97);transform-origin:center center;">U</div>
<div class="t " style="top:533.53px;font-size:13.5px;line-height:13.5px;color:#ff0000;left:844.50px;width:40px;text-align:center;transform:scaleX(0.97);transform-origin:center center;">U</div>
<div class="t " style="top:533.53px;font-size:13.5px;line-height:13.5px;color:#ff0000;left:871.00px;width:40px;text-align:center;transform:scaleX(0.97);transform-origin:center center;">U</div>
<div class="t n" style="top:534.25px;font-size:13.0px;line-height:13.0px;color:#ff0000;left:897.70px;width:40px;text-align:center;letter-spacing:0.3px;">--</div>
<div class="t n" style="top:534.25px;font-size:13.0px;line-height:13.0px;color:#ff0000;left:924.20px;width:40px;text-align:center;letter-spacing:0.3px;">--</div>
<div class="t " style="top:533.53px;font-size:13.5px;line-height:13.5px;left:951.00px;width:40px;text-align:center;transform:scaleX(0.97);transform-origin:center center;">T3</div>
<div class="t " style="top:533.53px;font-size:13.5px;line-height:13.5px;left:977.50px;width:40px;text-align:center;transform:scaleX(0.97);transform-origin:center center;">T1</div>
<div class="t " style="top:533.53px;font-size:13.5px;line-height:13.5px;left:1004.00px;width:40px;text-align:center;transform:scaleX(0.97);transform-origin:center center;">ND</div>
<div class="t b " style="top:555.47px;font-size:7.0px;line-height:7.0px;font-weight:bold;left:456.80px;width:20px;text-align:right;">T</div>
<div class="t b " style="top:555.47px;font-size:7.0px;line-height:7.0px;font-weight:bold;left:563.80px;width:20px;text-align:right;">T</div>
<div class="t b " style="top:555.47px;font-size:7.0px;line-height:7.0px;font-weight:bold;left:616.80px;width:20px;text-align:right;">T</div>
<div class="t s" style="top:584.29px;font-size:9.7px;line-height:9.7px;left:224.40px;width:40px;text-align:right;transform:scaleX(0.96);transform-origin:right center;">0.75</div>
<div class="t s" style="top:584.29px;font-size:9.7px;line-height:9.7px;color:#ff0000;left:277.40px;width:40px;text-align:right;transform:scaleX(0.96);transform-origin:right center;">-2.00</div>
<div class="t s" style="top:584.29px;font-size:9.7px;line-height:9.7px;color:#ff0000;left:411.40px;width:40px;text-align:right;transform:scaleX(0.96);transform-origin:right center;">-2.25</div>
<div class="t s" style="top:584.29px;font-size:9.7px;line-height:9.7px;left:437.40px;width:40px;text-align:right;transform:scaleX(0.96);transform-origin:right center;">4.50</div>
<div class="t s" style="top:584.29px;font-size:9.7px;line-height:9.7px;left:544.40px;width:40px;text-align:right;transform:scaleX(0.96);transform-origin:right center;">5.00</div>
<div class="t s" style="top:584.29px;font-size:9.7px;line-height:9.7px;left:597.40px;width:40px;text-align:right;transform:scaleX(0.96);transform-origin:right center;">5.00</div>
<div class="t s" style="top:584.29px;font-size:9.7px;line-height:9.7px;color:#ff0000;left:943.40px;width:40px;text-align:right;transform:scaleX(0.96);transform-origin:right center;">-3.50</div>
<div class="t s" style="top:584.29px;font-size:9.7px;line-height:9.7px;color:#ff0000;left:969.40px;width:40px;text-align:right;transform:scaleX(0.96);transform-origin:right center;">-5.00</div>
<div class="t s" style="top:584.29px;font-size:9.7px;line-height:9.7px;left:996.40px;width:40px;text-align:right;transform:scaleX(0.96);transform-origin:right center;">4.00</div>
<div class="t s" style="top:535.49px;font-size:9.7px;line-height:9.7px;left:1034.00px;width:40px;text-align:right;transform:scaleX(0.96);transform-origin:right center;">35,08</div>
<div class="t s" style="top:535.49px;font-size:9.7px;line-height:9.7px;left:1074.00px;width:40px;text-align:right;transform:scaleX(0.96);transform-origin:right center;">174,80</div>
<div class="t s" style="top:535.49px;font-size:9.7px;line-height:9.7px;left:1114.00px;width:40px;text-align:right;transform:scaleX(0.96);transform-origin:right center;">172,00</div>
<div class="t s" style="top:535.49px;font-size:9.7px;line-height:9.7px;color:#ff0000;left:1154.00px;width:40px;text-align:right;transform:scaleX(0.96);transform-origin:right center;">-2,80</div>
<div class="t s" style="top:535.49px;font-size:9.7px;line-height:9.7px;left:1194.00px;width:40px;text-align:right;transform:scaleX(0.96);transform-origin:right center;">39,58</div>
<div class="t s" style="top:535.49px;font-size:9.7px;line-height:9.7px;left:1234.00px;width:40px;text-align:right;transform:scaleX(0.96);transform-origin:right center;">38,00</div>
<div class="t s" style="top:562.89px;font-size:9.7px;line-height:9.7px;left:1034.00px;width:40px;text-align:right;transform:scaleX(0.96);transform-origin:right center;">35,08</div>
<div class="t s" style="top:562.89px;font-size:9.7px;line-height:9.7px;left:1074.00px;width:40px;text-align:right;transform:scaleX(0.96);transform-origin:right center;">174,80</div>
<div class="t s" style="top:562.89px;font-size:9.7px;line-height:9.7px;left:1114.00px;width:40px;text-align:right;transform:scaleX(0.96);transform-origin:right center;">162,50</div>
<div class="t s" style="top:562.89px;font-size:9.7px;line-height:9.7px;color:#ff0000;left:1154.00px;width:40px;text-align:right;transform:scaleX(0.96);transform-origin:right center;">-12,30</div>
<div class="t s" style="top:562.89px;font-size:9.7px;line-height:9.7px;left:1194.00px;width:40px;text-align:right;transform:scaleX(0.96);transform-origin:right center;">38,45</div>
<div class="t s" style="top:562.89px;font-size:9.7px;line-height:9.7px;left:1234.00px;width:40px;text-align:right;transform:scaleX(0.96);transform-origin:right center;">38,00</div>
<div class="t " style="top:603.53px;font-size:13.5px;line-height:13.5px;left:232.50px;width:40px;text-align:center;transform:scaleX(0.97);transform-origin:center center;">T3</div>
<div class="t " style="top:603.53px;font-size:13.5px;line-height:13.5px;left:312.00px;width:40px;text-align:center;transform:scaleX(0.97);transform-origin:center center;">T1</div>
<div class="t " style="top:603.53px;font-size:13.5px;line-height:13.5px;left:339.00px;width:40px;text-align:center;transform:scaleX(0.97);transform-origin:center center;">ND</div>
<div class="t " style="top:603.53px;font-size:13.5px;line-height:13.5px;left:392.00px;width:40px;text-align:center;transform:scaleX(0.97);transform-origin:center center;">TB</div>
<div class="t " style="top:603.53px;font-size:13.5px;line-height:13.5px;left:445.50px;width:40px;text-align:center;transform:scaleX(0.97);transform-origin:center center;">ND</div>
<div class="t " style="top:603.53px;font-size:13.5px;line-height:13.5px;left:525.00px;width:40px;text-align:center;transform:scaleX(0.97);transform-origin:center center;">T1</div>
<div class="t " style="top:603.53px;font-size:13.5px;line-height:13.5px;left:552.00px;width:40px;text-align:center;transform:scaleX(0.97);transform-origin:center center;">T3</div>
<div class="t n" style="top:604.25px;font-size:13.0px;line-height:13.0px;color:#ff0000;left:578.20px;width:40px;text-align:center;letter-spacing:0.3px;">--</div>
<div class="t n" style="top:604.25px;font-size:13.0px;line-height:13.0px;color:#ff0000;left:604.70px;width:40px;text-align:center;letter-spacing:0.3px;">--</div>
<div class="t n" style="top:604.25px;font-size:13.0px;line-height:13.0px;color:#ff0000;left:631.20px;width:40px;text-align:center;letter-spacing:0.3px;">--</div>
<div class="t n" style="top:604.25px;font-size:13.0px;line-height:13.0px;color:#ff0000;left:657.70px;width:40px;text-align:center;letter-spacing:0.3px;">--</div>
<div class="t " style="top:603.53px;font-size:13.5px;line-height:13.5px;left:685.00px;width:40px;text-align:center;transform:scaleX(0.97);transform-origin:center center;">T1</div>
<div class="t " style="top:603.53px;font-size:13.5px;line-height:13.5px;left:765.00px;width:40px;text-align:center;transform:scaleX(0.97);transform-origin:center center;">T3</div>
<div class="t " style="top:603.53px;font-size:13.5px;line-height:13.5px;left:791.50px;width:40px;text-align:center;transform:scaleX(0.97);transform-origin:center center;">ND</div>
<div class="t " style="top:603.53px;font-size:13.5px;line-height:13.5px;left:844.50px;width:40px;text-align:center;transform:scaleX(0.97);transform-origin:center center;">T3</div>
<div class="t " style="top:603.53px;font-size:13.5px;line-height:13.5px;left:898.00px;width:40px;text-align:center;transform:scaleX(0.97);transform-origin:center center;">T1</div>
<div class="t " style="top:603.53px;font-size:13.5px;line-height:13.5px;left:924.50px;width:40px;text-align:center;transform:scaleX(0.97);transform-origin:center center;">ND</div>
<div class="t n" style="top:604.25px;font-size:13.0px;line-height:13.0px;color:#ff0000;left:950.70px;width:40px;text-align:center;letter-spacing:0.3px;">--</div>
<div class="t n" style="top:604.25px;font-size:13.0px;line-height:13.0px;color:#ff0000;left:977.20px;width:40px;text-align:center;letter-spacing:0.3px;">--</div>
<div class="t n" style="top:604.25px;font-size:13.0px;line-height:13.0px;color:#ff0000;left:1003.70px;width:40px;text-align:center;letter-spacing:0.3px;">--</div>
<div class="t " style="top:632.53px;font-size:13.5px;line-height:13.5px;left:285.50px;width:40px;text-align:center;transform:scaleX(0.97);transform-origin:center center;">ND</div>
<div class="t " style="top:632.53px;font-size:13.5px;line-height:13.5px;left:339.00px;width:40px;text-align:center;transform:scaleX(0.97);transform-origin:center center;">T1</div>
<div class="t " style="top:632.53px;font-size:13.5px;line-height:13.5px;color:#ff0000;left:365.50px;width:40px;text-align:center;transform:scaleX(0.97);transform-origin:center center;">K</div>
<div class="t " style="top:625.33px;font-size:13.5px;line-height:13.5px;color:#ff0000;left:392.00px;width:40px;text-align:center;transform:scaleX(0.97);transform-origin:center center;">K</div>
<div class="t " style="top:639.33px;font-size:13.5px;line-height:13.5px;left:392.00px;width:40px;text-align:center;transform:scaleX(0.97);transform-origin:center center;">TB</div>
<div class="t " style="top:632.53px;font-size:13.5px;line-height:13.5px;color:#ff0000;left:419.00px;width:40px;text-align:center;transform:scaleX(0.97);transform-origin:center center;">K</div>
<div class="t " style="top:625.33px;font-size:13.5px;line-height:13.5px;color:#ff0000;left:445.50px;width:40px;text-align:center;transform:scaleX(0.97);transform-origin:center center;">K</div>
<div class="t " style="top:639.33px;font-size:13.5px;line-height:13.5px;left:445.50px;width:40px;text-align:center;transform:scaleX(0.97);transform-origin:center center;">ND</div>
<div class="t " style="top:632.53px;font-size:13.5px;line-height:13.5px;color:#ff0000;left:472.00px;width:40px;text-align:center;transform:scaleX(0.97);transform-origin:center center;">K</div>
<div class="t " style="top:632.53px;font-size:13.5px;line-height:13.5px;color:#ff0000;left:498.50px;width:40px;text-align:center;transform:scaleX(0.97);transform-origin:center center;">K</div>
<div class="t " style="top:625.33px;font-size:13.5px;line-height:13.5px;color:#ff0000;left:525.00px;width:40px;text-align:center;transform:scaleX(0.97);transform-origin:center center;">K</div>
<div class="t " style="top:639.33px;font-size:13.5px;line-height:13.5px;left:525.00px;width:40px;text-align:center;transform:scaleX(0.97);transform-origin:center center;">T1</div>
<div class="t " style="top:625.33px;font-size:13.5px;line-height:13.5px;color:#ff0000;left:552.00px;width:40px;text-align:center;transform:scaleX(0.97);transform-origin:center center;">K</div>
<div class="t " style="top:639.33px;font-size:13.5px;line-height:13.5px;left:552.00px;width:40px;text-align:center;transform:scaleX(0.97);transform-origin:center center;">T3</div>
<div class="t " style="top:632.53px;font-size:13.5px;line-height:13.5px;color:#ff0000;left:578.50px;width:40px;text-align:center;transform:scaleX(0.97);transform-origin:center center;">K</div>
<div class="t " style="top:632.53px;font-size:13.5px;line-height:13.5px;color:#ff0000;left:605.00px;width:40px;text-align:center;transform:scaleX(0.97);transform-origin:center center;">K</div>
<div class="t " style="top:632.53px;font-size:13.5px;line-height:13.5px;color:#ff0000;left:631.50px;width:40px;text-align:center;transform:scaleX(0.97);transform-origin:center center;">K</div>
<div class="t " style="top:632.53px;font-size:13.5px;line-height:13.5px;color:#ff0000;left:658.00px;width:40px;text-align:center;transform:scaleX(0.97);transform-origin:center center;">K</div>
<div class="t " style="top:625.33px;font-size:13.5px;line-height:13.5px;color:#ff0000;left:685.00px;width:40px;text-align:center;transform:scaleX(0.97);transform-origin:center center;">K</div>
<div class="t " style="top:639.33px;font-size:13.5px;line-height:13.5px;left:685.00px;width:40px;text-align:center;transform:scaleX(0.97);transform-origin:center center;">T1</div>
<div class="t " style="top:632.53px;font-size:13.5px;line-height:13.5px;color:#ff0000;left:711.50px;width:40px;text-align:center;transform:scaleX(0.97);transform-origin:center center;">K</div>
<div class="t " style="top:632.53px;font-size:13.5px;line-height:13.5px;color:#ff0000;left:738.00px;width:40px;text-align:center;transform:scaleX(0.97);transform-origin:center center;">K</div>
<div class="t " style="top:625.33px;font-size:13.5px;line-height:13.5px;color:#ff0000;left:765.00px;width:40px;text-align:center;transform:scaleX(0.97);transform-origin:center center;">K</div>
<div class="t " style="top:639.33px;font-size:13.5px;line-height:13.5px;left:765.00px;width:40px;text-align:center;transform:scaleX(0.97);transform-origin:center center;">T3</div>
<div class="t " style="top:625.33px;font-size:13.5px;line-height:13.5px;color:#ff0000;left:791.50px;width:40px;text-align:center;transform:scaleX(0.97);transform-origin:center center;">K</div>
<div class="t " style="top:639.33px;font-size:13.5px;line-height:13.5px;left:791.50px;width:40px;text-align:center;transform:scaleX(0.97);transform-origin:center center;">ND</div>
<div class="t " style="top:632.53px;font-size:13.5px;line-height:13.5px;color:#ff0000;left:818.00px;width:40px;text-align:center;transform:scaleX(0.97);transform-origin:center center;">K</div>
<div class="t " style="top:625.33px;font-size:13.5px;line-height:13.5px;color:#ff0000;left:844.50px;width:40px;text-align:center;transform:scaleX(0.97);transform-origin:center center;">K</div>
<div class="t " style="top:639.33px;font-size:13.5px;line-height:13.5px;left:844.50px;width:40px;text-align:center;transform:scaleX(0.97);transform-origin:center center;">T3</div>
<div class="t " style="top:632.53px;font-size:13.5px;line-height:13.5px;color:#ff0000;left:871.00px;width:40px;text-align:center;transform:scaleX(0.97);transform-origin:center center;">K</div>
<div class="t " style="top:625.33px;font-size:13.5px;line-height:13.5px;color:#ff0000;left:898.00px;width:40px;text-align:center;transform:scaleX(0.97);transform-origin:center center;">K</div>
<div class="t " style="top:639.33px;font-size:13.5px;line-height:13.5px;left:898.00px;width:40px;text-align:center;transform:scaleX(0.97);transform-origin:center center;">T1</div>
<div class="t " style="top:625.33px;font-size:13.5px;line-height:13.5px;color:#ff0000;left:924.50px;width:40px;text-align:center;transform:scaleX(0.97);transform-origin:center center;">K</div>
<div class="t " style="top:639.33px;font-size:13.5px;line-height:13.5px;left:924.50px;width:40px;text-align:center;transform:scaleX(0.97);transform-origin:center center;">ND</div>
<div class="t " style="top:632.53px;font-size:13.5px;line-height:13.5px;color:#ff0000;left:951.00px;width:40px;text-align:center;transform:scaleX(0.97);transform-origin:center center;">K</div>
<div class="t " style="top:632.53px;font-size:13.5px;line-height:13.5px;color:#ff0000;left:977.50px;width:40px;text-align:center;transform:scaleX(0.97);transform-origin:center center;">K</div>
<div class="t " style="top:632.53px;font-size:13.5px;line-height:13.5px;color:#ff0000;left:1004.00px;width:40px;text-align:center;transform:scaleX(0.97);transform-origin:center center;">K</div>
<div class="t s" style="top:655.29px;font-size:9.7px;line-height:9.7px;color:#ff0000;left:224.40px;width:40px;text-align:right;transform:scaleX(0.96);transform-origin:right center;">-2.00</div>
<div class="t s" style="top:655.29px;font-size:9.7px;line-height:9.7px;left:277.40px;width:40px;text-align:right;transform:scaleX(0.96);transform-origin:right center;">4.00</div>
<div class="t s" style="top:655.29px;font-size:9.7px;line-height:9.7px;left:437.40px;width:40px;text-align:right;transform:scaleX(0.96);transform-origin:right center;">4.00</div>
<div class="t s" style="top:655.29px;font-size:9.7px;line-height:9.7px;left:783.40px;width:40px;text-align:right;transform:scaleX(0.96);transform-origin:right center;">4.00</div>
<div class="t s" style="top:655.29px;font-size:9.7px;line-height:9.7px;left:916.40px;width:40px;text-align:right;transform:scaleX(0.96);transform-origin:right center;">4.00</div>
<div class="t s" style="top:605.49px;font-size:9.7px;line-height:9.7px;left:1034.00px;width:40px;text-align:right;transform:scaleX(0.96);transform-origin:right center;">38,45</div>
<div class="t s" style="top:605.49px;font-size:9.7px;line-height:9.7px;left:1074.00px;width:40px;text-align:right;transform:scaleX(0.96);transform-origin:right center;">159,60</div>
<div class="t s" style="top:605.49px;font-size:9.7px;line-height:9.7px;left:1114.00px;width:40px;text-align:right;transform:scaleX(0.96);transform-origin:right center;">143,00</div>
<div class="t s" style="top:605.49px;font-size:9.7px;line-height:9.7px;color:#ff0000;left:1154.00px;width:40px;text-align:right;transform:scaleX(0.96);transform-origin:right center;">-16,60</div>
<div class="t s" style="top:605.49px;font-size:9.7px;line-height:9.7px;left:1194.00px;width:40px;text-align:right;transform:scaleX(0.96);transform-origin:right center;">38,45</div>
<div class="t s" style="top:633.39px;font-size:9.7px;line-height:9.7px;left:1034.00px;width:40px;text-align:right;transform:scaleX(0.96);transform-origin:right center;">38,45</div>
<div class="t s" style="top:633.39px;font-size:9.7px;line-height:9.7px;left:1074.00px;width:40px;text-align:right;transform:scaleX(0.96);transform-origin:right center;">159,60</div>
<div class="t s" style="top:633.39px;font-size:9.7px;line-height:9.7px;left:1114.00px;width:40px;text-align:right;transform:scaleX(0.96);transform-origin:right center;">141,00</div>
<div class="t s" style="top:633.39px;font-size:9.7px;line-height:9.7px;color:#ff0000;left:1154.00px;width:40px;text-align:right;transform:scaleX(0.96);transform-origin:right center;">-18,60</div>
<div class="t s" style="top:633.39px;font-size:9.7px;line-height:9.7px;left:1194.00px;width:40px;text-align:right;transform:scaleX(0.96);transform-origin:right center;">42,20</div>
<div class="t s" style="top:633.39px;font-size:9.7px;line-height:9.7px;left:1274.00px;width:40px;text-align:right;transform:scaleX(0.96);transform-origin:right center;">102,00</div>
<div class="t " style="top:674.53px;font-size:13.5px;line-height:13.5px;color:#ff0000;left:206.00px;width:40px;text-align:center;transform:scaleX(0.97);transform-origin:center center;">K</div>
<div class="t " style="top:674.53px;font-size:13.5px;line-height:13.5px;color:#ff0000;left:232.50px;width:40px;text-align:center;transform:scaleX(0.97);transform-origin:center center;">K</div>
<div class="t " style="top:674.53px;font-size:13.5px;line-height:13.5px;color:#ff0000;left:259.00px;width:40px;text-align:center;transform:scaleX(0.97);transform-origin:center center;">K</div>
<div class="t " style="top:674.53px;font-size:13.5px;line-height:13.5px;color:#ff0000;left:285.50px;width:40px;text-align:center;transform:scaleX(0.97);transform-origin:center center;">K</div>
<div class="t " style="top:674.53px;font-size:13.5px;line-height:13.5px;color:#ff0000;left:312.00px;width:40px;text-align:center;transform:scaleX(0.97);transform-origin:center center;">K</div>
<div class="t " style="top:674.53px;font-size:13.5px;line-height:13.5px;color:#ff0000;left:339.00px;width:40px;text-align:center;transform:scaleX(0.97);transform-origin:center center;">K</div>
<div class="t " style="top:674.53px;font-size:13.5px;line-height:13.5px;color:#ff0000;left:365.50px;width:40px;text-align:center;transform:scaleX(0.97);transform-origin:center center;">K</div>
<div class="t " style="top:674.53px;font-size:13.5px;line-height:13.5px;color:#ff0000;left:392.00px;width:40px;text-align:center;transform:scaleX(0.97);transform-origin:center center;">K</div>
<div class="t " style="top:674.53px;font-size:13.5px;line-height:13.5px;color:#ff0000;left:419.00px;width:40px;text-align:center;transform:scaleX(0.97);transform-origin:center center;">K</div>
<div class="t " style="top:674.53px;font-size:13.5px;line-height:13.5px;color:#ff0000;left:445.50px;width:40px;text-align:center;transform:scaleX(0.97);transform-origin:center center;">K</div>
<div class="t " style="top:674.53px;font-size:13.5px;line-height:13.5px;color:#ff0000;left:472.00px;width:40px;text-align:center;transform:scaleX(0.97);transform-origin:center center;">K</div>
<div class="t " style="top:674.53px;font-size:13.5px;line-height:13.5px;color:#ff0000;left:498.50px;width:40px;text-align:center;transform:scaleX(0.97);transform-origin:center center;">K</div>
<div class="t " style="top:674.53px;font-size:13.5px;line-height:13.5px;color:#ff0000;left:525.00px;width:40px;text-align:center;transform:scaleX(0.97);transform-origin:center center;">K</div>
<div class="t " style="top:674.53px;font-size:13.5px;line-height:13.5px;color:#ff0000;left:552.00px;width:40px;text-align:center;transform:scaleX(0.97);transform-origin:center center;">K</div>
<div class="t " style="top:674.53px;font-size:13.5px;line-height:13.5px;color:#ff0000;left:578.50px;width:40px;text-align:center;transform:scaleX(0.97);transform-origin:center center;">K</div>
<div class="t " style="top:674.53px;font-size:13.5px;line-height:13.5px;color:#ff0000;left:605.00px;width:40px;text-align:center;transform:scaleX(0.97);transform-origin:center center;">K</div>
<div class="t " style="top:674.53px;font-size:13.5px;line-height:13.5px;color:#ff0000;left:631.50px;width:40px;text-align:center;transform:scaleX(0.97);transform-origin:center center;">K</div>
<div class="t " style="top:674.53px;font-size:13.5px;line-height:13.5px;color:#ff0000;left:658.00px;width:40px;text-align:center;transform:scaleX(0.97);transform-origin:center center;">K</div>
<div class="t " style="top:674.53px;font-size:13.5px;line-height:13.5px;color:#ff0000;left:685.00px;width:40px;text-align:center;transform:scaleX(0.97);transform-origin:center center;">K</div>
<div class="t " style="top:674.53px;font-size:13.5px;line-height:13.5px;color:#ff0000;left:711.50px;width:40px;text-align:center;transform:scaleX(0.97);transform-origin:center center;">K</div>
<div class="t " style="top:674.53px;font-size:13.5px;line-height:13.5px;color:#ff0000;left:738.00px;width:40px;text-align:center;transform:scaleX(0.97);transform-origin:center center;">K</div>
<div class="t " style="top:674.53px;font-size:13.5px;line-height:13.5px;color:#ff0000;left:765.00px;width:40px;text-align:center;transform:scaleX(0.97);transform-origin:center center;">K</div>
<div class="t " style="top:674.53px;font-size:13.5px;line-height:13.5px;color:#ff0000;left:791.50px;width:40px;text-align:center;transform:scaleX(0.97);transform-origin:center center;">K</div>
<div class="t " style="top:674.53px;font-size:13.5px;line-height:13.5px;color:#ff0000;left:818.00px;width:40px;text-align:center;transform:scaleX(0.97);transform-origin:center center;">K</div>
<div class="t " style="top:674.53px;font-size:13.5px;line-height:13.5px;color:#ff0000;left:844.50px;width:40px;text-align:center;transform:scaleX(0.97);transform-origin:center center;">K</div>
<div class="t " style="top:674.53px;font-size:13.5px;line-height:13.5px;color:#ff0000;left:871.00px;width:40px;text-align:center;transform:scaleX(0.97);transform-origin:center center;">K</div>
<div class="t " style="top:674.53px;font-size:13.5px;line-height:13.5px;left:924.50px;width:40px;text-align:center;transform:scaleX(0.97);transform-origin:center center;">ND</div>
<div class="t " style="top:703.03px;font-size:13.5px;line-height:13.5px;left:445.50px;width:40px;text-align:center;transform:scaleX(0.97);transform-origin:center center;">T4</div>
<div class="t " style="top:703.03px;font-size:13.5px;line-height:13.5px;left:472.00px;width:40px;text-align:center;transform:scaleX(0.97);transform-origin:center center;">T3</div>
<div class="t " style="top:703.03px;font-size:13.5px;line-height:13.5px;left:498.50px;width:40px;text-align:center;transform:scaleX(0.97);transform-origin:center center;">T1</div>
<div class="t " style="top:703.03px;font-size:13.5px;line-height:13.5px;left:525.00px;width:40px;text-align:center;transform:scaleX(0.97);transform-origin:center center;">T1</div>
<div class="t " style="top:703.03px;font-size:13.5px;line-height:13.5px;left:605.00px;width:40px;text-align:center;transform:scaleX(0.97);transform-origin:center center;">ND</div>
<div class="r" style="left:620.6px;top:716.5px;width:8.6px;height:1.1px;background:#000"></div>
<div class="t " style="top:703.03px;font-size:13.5px;line-height:13.5px;color:#ff0000;left:658.00px;width:40px;text-align:center;transform:scaleX(0.97);transform-origin:center center;">SU</div>
<div class="t " style="top:703.03px;font-size:13.5px;line-height:13.5px;left:685.00px;width:40px;text-align:center;transform:scaleX(0.97);transform-origin:center center;">T3</div>
<div class="t " style="top:703.03px;font-size:13.5px;line-height:13.5px;color:#ff0000;left:711.50px;width:40px;text-align:center;transform:scaleX(0.97);transform-origin:center center;">SU</div>
<div class="t " style="top:703.03px;font-size:13.5px;line-height:13.5px;left:791.50px;width:40px;text-align:center;transform:scaleX(0.97);transform-origin:center center;">ND</div>
<div class="t s" style="top:725.29px;font-size:9.7px;line-height:9.7px;left:464.40px;width:40px;text-align:right;transform:scaleX(0.96);transform-origin:right center;">0.50</div>
<div class="t s" style="top:725.29px;font-size:9.7px;line-height:9.7px;color:#ff0000;left:490.40px;width:40px;text-align:right;transform:scaleX(0.96);transform-origin:right center;">-1.00</div>
<div class="t s" style="top:725.29px;font-size:9.7px;line-height:9.7px;left:517.40px;width:40px;text-align:right;transform:scaleX(0.96);transform-origin:right center;">0.50</div>
<div class="t s" style="top:725.29px;font-size:9.7px;line-height:9.7px;left:597.40px;width:40px;text-align:right;transform:scaleX(0.96);transform-origin:right center;">7.00</div>
<div class="t s" style="top:725.29px;font-size:9.7px;line-height:9.7px;left:677.40px;width:40px;text-align:right;transform:scaleX(0.96);transform-origin:right center;">0.75</div>
<div class="t s" style="top:725.29px;font-size:9.7px;line-height:9.7px;left:783.40px;width:40px;text-align:right;transform:scaleX(0.96);transform-origin:right center;">5.00</div>
<div class="t s" style="top:725.29px;font-size:9.7px;line-height:9.7px;left:916.40px;width:40px;text-align:right;transform:scaleX(0.96);transform-origin:right center;">4.75</div>
<div class="t s" style="top:676.49px;font-size:9.7px;line-height:9.7px;left:1034.00px;width:40px;text-align:right;transform:scaleX(0.96);transform-origin:right center;">42,20</div>
<div class="t s" style="top:676.49px;font-size:9.7px;line-height:9.7px;left:1074.00px;width:40px;text-align:right;transform:scaleX(0.96);transform-origin:right center;">159,60</div>
<div class="t s" style="top:676.49px;font-size:9.7px;line-height:9.7px;left:1114.00px;width:40px;text-align:right;transform:scaleX(0.96);transform-origin:right center;">160,40</div>
<div class="t s" style="top:676.49px;font-size:9.7px;line-height:9.7px;left:1154.00px;width:40px;text-align:right;transform:scaleX(0.96);transform-origin:right center;">0,80</div>
<div class="t s" style="top:676.49px;font-size:9.7px;line-height:9.7px;left:1194.00px;width:40px;text-align:right;transform:scaleX(0.96);transform-origin:right center;">7,35</div>
<div class="t s" style="top:676.49px;font-size:9.7px;line-height:9.7px;left:1274.00px;width:40px;text-align:right;transform:scaleX(0.96);transform-origin:right center;">144,40</div>
<div class="t s" style="top:703.89px;font-size:9.7px;line-height:9.7px;left:1034.00px;width:40px;text-align:right;transform:scaleX(0.96);transform-origin:right center;">42,20</div>
<div class="t s" style="top:703.89px;font-size:9.7px;line-height:9.7px;left:1074.00px;width:40px;text-align:right;transform:scaleX(0.96);transform-origin:right center;">159,60</div>
<div class="t s" style="top:703.89px;font-size:9.7px;line-height:9.7px;left:1114.00px;width:40px;text-align:right;transform:scaleX(0.96);transform-origin:right center;">151,70</div>
<div class="t s" style="top:703.89px;font-size:9.7px;line-height:9.7px;color:#ff0000;left:1154.00px;width:40px;text-align:right;transform:scaleX(0.96);transform-origin:right center;">-7,90</div>
<div class="t s" style="top:703.89px;font-size:9.7px;line-height:9.7px;color:#ff0000;left:1194.00px;width:40px;text-align:right;transform:scaleX(0.96);transform-origin:right center;">-0,72</div>
<div class="t s" style="top:703.89px;font-size:9.7px;line-height:9.7px;left:1274.00px;width:40px;text-align:right;transform:scaleX(0.96);transform-origin:right center;">38,00</div>
<div class="t " style="top:744.53px;font-size:13.5px;line-height:13.5px;left:206.00px;width:40px;text-align:center;transform:scaleX(0.97);transform-origin:center center;">ND</div>
<div class="t " style="top:744.53px;font-size:13.5px;line-height:13.5px;left:259.00px;width:40px;text-align:center;transform:scaleX(0.97);transform-origin:center center;">T1</div>
<div class="t n" style="top:745.25px;font-size:13.0px;line-height:13.0px;color:#ff0000;left:285.20px;width:40px;text-align:center;letter-spacing:0.3px;">--</div>
<div class="t n" style="top:745.25px;font-size:13.0px;line-height:13.0px;color:#ff0000;left:311.70px;width:40px;text-align:center;letter-spacing:0.3px;">--</div>
<div class="t n" style="top:745.25px;font-size:13.0px;line-height:13.0px;color:#ff0000;left:338.70px;width:40px;text-align:center;letter-spacing:0.3px;">--</div>
<div class="t " style="top:744.53px;font-size:13.5px;line-height:13.5px;left:392.00px;width:40px;text-align:center;transform:scaleX(0.97);transform-origin:center center;">T1</div>
<div class="t " style="top:744.53px;font-size:13.5px;line-height:13.5px;left:419.00px;width:40px;text-align:center;transform:scaleX(0.97);transform-origin:center center;">T1</div>
<div class="t " style="top:744.53px;font-size:13.5px;line-height:13.5px;left:445.50px;width:40px;text-align:center;transform:scaleX(0.97);transform-origin:center center;">ND</div>
<div class="t " style="top:744.53px;font-size:13.5px;line-height:13.5px;left:605.00px;width:40px;text-align:center;transform:scaleX(0.97);transform-origin:center center;">T1</div>
<div class="t " style="top:744.53px;font-size:13.5px;line-height:13.5px;left:631.50px;width:40px;text-align:center;transform:scaleX(0.97);transform-origin:center center;">T1</div>
<div class="t " style="top:744.53px;font-size:13.5px;line-height:13.5px;left:658.00px;width:40px;text-align:center;transform:scaleX(0.97);transform-origin:center center;">ND</div>
<div class="t " style="top:744.53px;font-size:13.5px;line-height:13.5px;left:711.50px;width:40px;text-align:center;transform:scaleX(0.97);transform-origin:center center;">T3</div>
<div class="t " style="top:744.53px;font-size:13.5px;line-height:13.5px;left:765.00px;width:40px;text-align:center;transform:scaleX(0.97);transform-origin:center center;">T1</div>
<div class="t " style="top:744.53px;font-size:13.5px;line-height:13.5px;left:791.50px;width:40px;text-align:center;transform:scaleX(0.97);transform-origin:center center;">NB</div>
<div class="t " style="top:744.53px;font-size:13.5px;line-height:13.5px;left:924.50px;width:40px;text-align:center;transform:scaleX(0.97);transform-origin:center center;">T1</div>
<div class="t " style="top:744.53px;font-size:13.5px;line-height:13.5px;left:951.00px;width:40px;text-align:center;transform:scaleX(0.97);transform-origin:center center;">T3</div>
<div class="t " style="top:744.53px;font-size:13.5px;line-height:13.5px;left:977.50px;width:40px;text-align:center;transform:scaleX(0.97);transform-origin:center center;">ND</div>
<div class="t " style="top:773.53px;font-size:13.5px;line-height:13.5px;left:285.50px;width:40px;text-align:center;transform:scaleX(0.97);transform-origin:center center;">T4</div>
<div class="t " style="top:773.53px;font-size:13.5px;line-height:13.5px;color:#ff0000;left:552.00px;width:40px;text-align:center;transform:scaleX(0.97);transform-origin:center center;">BA</div>
<div class="t s" style="top:796.29px;font-size:9.7px;line-height:9.7px;left:198.40px;width:40px;text-align:right;transform:scaleX(0.96);transform-origin:right center;">4.00</div>
<div class="t s" style="top:796.29px;font-size:9.7px;line-height:9.7px;left:437.40px;width:40px;text-align:right;transform:scaleX(0.96);transform-origin:right center;">4.00</div>
<div class="t s" style="top:796.29px;font-size:9.7px;line-height:9.7px;left:650.40px;width:40px;text-align:right;transform:scaleX(0.96);transform-origin:right center;">4.00</div>
<div class="t s" style="top:796.29px;font-size:9.7px;line-height:9.7px;left:783.40px;width:40px;text-align:right;transform:scaleX(0.96);transform-origin:right center;">4.00</div>
<div class="t s" style="top:796.29px;font-size:9.7px;line-height:9.7px;left:969.40px;width:40px;text-align:right;transform:scaleX(0.96);transform-origin:right center;">4.00</div>
<div class="t s" style="top:746.49px;font-size:9.7px;line-height:9.7px;color:#ff0000;left:1034.00px;width:40px;text-align:right;transform:scaleX(0.96);transform-origin:right center;">-0,72</div>
<div class="t s" style="top:746.49px;font-size:9.7px;line-height:9.7px;left:1074.00px;width:40px;text-align:right;transform:scaleX(0.96);transform-origin:right center;">174,80</div>
<div class="t s" style="top:746.49px;font-size:9.7px;line-height:9.7px;left:1114.00px;width:40px;text-align:right;transform:scaleX(0.96);transform-origin:right center;">161,00</div>
<div class="t s" style="top:746.49px;font-size:9.7px;line-height:9.7px;color:#ff0000;left:1154.00px;width:40px;text-align:right;transform:scaleX(0.96);transform-origin:right center;">-13,80</div>
<div class="t s" style="top:746.49px;font-size:9.7px;line-height:9.7px;color:#ff0000;left:1194.00px;width:40px;text-align:right;transform:scaleX(0.96);transform-origin:right center;">-0,72</div>
<div class="t s" style="top:774.39px;font-size:9.7px;line-height:9.7px;color:#ff0000;left:1034.00px;width:40px;text-align:right;transform:scaleX(0.96);transform-origin:right center;">-0,72</div>
<div class="t s" style="top:774.39px;font-size:9.7px;line-height:9.7px;left:1074.00px;width:40px;text-align:right;transform:scaleX(0.96);transform-origin:right center;">174,80</div>
<div class="t s" style="top:774.39px;font-size:9.7px;line-height:9.7px;left:1114.00px;width:40px;text-align:right;transform:scaleX(0.96);transform-origin:right center;">175,60</div>
<div class="t s" style="top:774.39px;font-size:9.7px;line-height:9.7px;left:1154.00px;width:40px;text-align:right;transform:scaleX(0.96);transform-origin:right center;">0,80</div>
<div class="t s" style="top:774.39px;font-size:9.7px;line-height:9.7px;color:#ff0000;left:1194.00px;width:40px;text-align:right;transform:scaleX(0.96);transform-origin:right center;">-0,72</div>
<div class="t " style="top:815.53px;font-size:13.5px;line-height:13.5px;left:206.00px;width:40px;text-align:center;transform:scaleX(0.97);transform-origin:center center;">T3</div>
<div class="t n" style="top:816.25px;font-size:13.0px;line-height:13.0px;color:#ff0000;left:232.20px;width:40px;text-align:center;letter-spacing:0.3px;">--</div>
<div class="t n" style="top:816.25px;font-size:13.0px;line-height:13.0px;color:#ff0000;left:258.70px;width:40px;text-align:center;letter-spacing:0.3px;">--</div>
<div class="t " style="top:815.53px;font-size:13.5px;line-height:13.5px;left:285.50px;width:40px;text-align:center;transform:scaleX(0.97);transform-origin:center center;">T1</div>
<div class="t " style="top:815.53px;font-size:13.5px;line-height:13.5px;left:312.00px;width:40px;text-align:center;transform:scaleX(0.97);transform-origin:center center;">T1</div>
<div class="t " style="top:815.53px;font-size:13.5px;line-height:13.5px;left:365.50px;width:40px;text-align:center;transform:scaleX(0.97);transform-origin:center center;">Fb</div>
<div class="t " style="top:815.53px;font-size:13.5px;line-height:13.5px;left:392.00px;width:40px;text-align:center;transform:scaleX(0.97);transform-origin:center center;">T3</div>
<div class="t " style="top:815.53px;font-size:13.5px;line-height:13.5px;left:472.00px;width:40px;text-align:center;transform:scaleX(0.97);transform-origin:center center;">T1</div>
<div class="t " style="top:815.53px;font-size:13.5px;line-height:13.5px;color:#ff0000;left:498.50px;width:40px;text-align:center;transform:scaleX(0.97);transform-origin:center center;">K</div>
<div class="t " style="top:815.53px;font-size:13.5px;line-height:13.5px;color:#ff0000;left:525.00px;width:40px;text-align:center;transform:scaleX(0.97);transform-origin:center center;">K</div>
<div class="t " style="top:815.53px;font-size:13.5px;line-height:13.5px;color:#ff0000;left:552.00px;width:40px;text-align:center;transform:scaleX(0.97);transform-origin:center center;">K</div>
<div class="t " style="top:815.53px;font-size:13.5px;line-height:13.5px;left:605.00px;width:40px;text-align:center;transform:scaleX(0.97);transform-origin:center center;">ND</div>
<div class="t " style="top:815.53px;font-size:13.5px;line-height:13.5px;left:685.00px;width:40px;text-align:center;transform:scaleX(0.97);transform-origin:center center;">T1</div>
<div class="t " style="top:815.53px;font-size:13.5px;line-height:13.5px;left:711.50px;width:40px;text-align:center;transform:scaleX(0.97);transform-origin:center center;">ND</div>
<div class="t " style="top:815.53px;font-size:13.5px;line-height:13.5px;left:765.00px;width:40px;text-align:center;transform:scaleX(0.97);transform-origin:center center;">T1</div>
<div class="t " style="top:815.53px;font-size:13.5px;line-height:13.5px;left:844.50px;width:40px;text-align:center;transform:scaleX(0.97);transform-origin:center center;">T1</div>
<div class="t " style="top:815.53px;font-size:13.5px;line-height:13.5px;left:871.00px;width:40px;text-align:center;transform:scaleX(0.97);transform-origin:center center;">T1</div>
<div class="r" style="left:886.6px;top:829.0px;width:8.6px;height:1.1px;background:#000"></div>
<div class="t " style="top:815.53px;font-size:13.5px;line-height:13.5px;left:898.00px;width:40px;text-align:center;transform:scaleX(0.97);transform-origin:center center;">T3</div>
<div class="t n" style="top:816.25px;font-size:13.0px;line-height:13.0px;color:#ff0000;left:950.70px;width:40px;text-align:center;letter-spacing:0.3px;">--</div>
<div class="t n" style="top:816.25px;font-size:13.0px;line-height:13.0px;color:#ff0000;left:977.20px;width:40px;text-align:center;letter-spacing:0.3px;">--</div>
<div class="t " style="top:844.03px;font-size:13.5px;line-height:13.5px;left:392.00px;width:40px;text-align:center;transform:scaleX(0.97);transform-origin:center center;">T1</div>
<div class="t " style="top:844.03px;font-size:13.5px;line-height:13.5px;left:578.50px;width:40px;text-align:center;transform:scaleX(0.97);transform-origin:center center;">T3</div>
<div class="t " style="top:844.03px;font-size:13.5px;line-height:13.5px;left:658.00px;width:40px;text-align:center;transform:scaleX(0.97);transform-origin:center center;">T1</div>
<div class="t b " style="top:837.47px;font-size:7.0px;line-height:7.0px;font-weight:bold;left:882.80px;width:20px;text-align:right;">T</div>
<div class="t s" style="top:866.29px;font-size:9.7px;line-height:9.7px;left:198.40px;width:40px;text-align:right;transform:scaleX(0.96);transform-origin:right center;">0.50</div>
<div class="t s" style="top:866.29px;font-size:9.7px;line-height:9.7px;left:357.40px;width:40px;text-align:right;transform:scaleX(0.96);transform-origin:right center;">7.60</div>
<div class="t s" style="top:866.29px;font-size:9.7px;line-height:9.7px;left:597.40px;width:40px;text-align:right;transform:scaleX(0.96);transform-origin:right center;">4.00</div>
<div class="t s" style="top:866.29px;font-size:9.7px;line-height:9.7px;left:703.40px;width:40px;text-align:right;transform:scaleX(0.96);transform-origin:right center;">4.00</div>
<div class="t s" style="top:866.29px;font-size:9.7px;line-height:9.7px;color:#ff0000;left:863.40px;width:40px;text-align:right;transform:scaleX(0.96);transform-origin:right center;">-1.40</div>
<div class="t s" style="top:866.29px;font-size:9.7px;line-height:9.7px;left:890.40px;width:40px;text-align:right;transform:scaleX(0.96);transform-origin:right center;">0.75</div>
<div class="t s" style="top:817.49px;font-size:9.7px;line-height:9.7px;color:#ff0000;left:1034.00px;width:40px;text-align:right;transform:scaleX(0.96);transform-origin:right center;">-0,72</div>
<div class="t s" style="top:817.49px;font-size:9.7px;line-height:9.7px;left:1074.00px;width:40px;text-align:right;transform:scaleX(0.96);transform-origin:right center;">152,00</div>
<div class="t s" style="top:817.49px;font-size:9.7px;line-height:9.7px;left:1114.00px;width:40px;text-align:right;transform:scaleX(0.96);transform-origin:right center;">155,00</div>
<div class="t s" style="top:817.49px;font-size:9.7px;line-height:9.7px;left:1154.00px;width:40px;text-align:right;transform:scaleX(0.96);transform-origin:right center;">3,00</div>
<div class="t s" style="top:817.49px;font-size:9.7px;line-height:9.7px;color:#ff0000;left:1194.00px;width:40px;text-align:right;transform:scaleX(0.96);transform-origin:right center;">-0,72</div>
<div class="t s" style="top:817.49px;font-size:9.7px;line-height:9.7px;left:1274.00px;width:40px;text-align:right;transform:scaleX(0.96);transform-origin:right center;">22,80</div>
<div class="t s" style="top:844.89px;font-size:9.7px;line-height:9.7px;color:#ff0000;left:1034.00px;width:40px;text-align:right;transform:scaleX(0.96);transform-origin:right center;">-0,72</div>
<div class="t s" style="top:844.89px;font-size:9.7px;line-height:9.7px;left:1074.00px;width:40px;text-align:right;transform:scaleX(0.96);transform-origin:right center;">152,00</div>
<div class="t s" style="top:844.89px;font-size:9.7px;line-height:9.7px;left:1114.00px;width:40px;text-align:right;transform:scaleX(0.96);transform-origin:right center;">166,65</div>
<div class="t s" style="top:844.89px;font-size:9.7px;line-height:9.7px;left:1154.00px;width:40px;text-align:right;transform:scaleX(0.96);transform-origin:right center;">14,65</div>
<div class="t s" style="top:844.89px;font-size:9.7px;line-height:9.7px;left:1194.00px;width:40px;text-align:right;transform:scaleX(0.96);transform-origin:right center;">0,40</div>
<div class="t s" style="top:844.89px;font-size:9.7px;line-height:9.7px;left:1274.00px;width:40px;text-align:right;transform:scaleX(0.96);transform-origin:right center;">15,20</div>
<div class="t n" style="top:886.75px;font-size:13.0px;line-height:13.0px;color:#ff0000;left:205.70px;width:40px;text-align:center;letter-spacing:0.3px;">--</div>
<div class="t " style="top:886.03px;font-size:13.5px;line-height:13.5px;color:#ff0000;left:232.50px;width:40px;text-align:center;transform:scaleX(0.97);transform-origin:center center;">U</div>
<div class="t " style="top:886.03px;font-size:13.5px;line-height:13.5px;color:#ff0000;left:259.00px;width:40px;text-align:center;transform:scaleX(0.97);transform-origin:center center;">U</div>
<div class="t " style="top:886.03px;font-size:13.5px;line-height:13.5px;color:#ff0000;left:285.50px;width:40px;text-align:center;transform:scaleX(0.97);transform-origin:center center;">U</div>
<div class="t " style="top:886.03px;font-size:13.5px;line-height:13.5px;color:#ff0000;left:312.00px;width:40px;text-align:center;transform:scaleX(0.97);transform-origin:center center;">U</div>
<div class="t " style="top:886.03px;font-size:13.5px;line-height:13.5px;color:#ff0000;left:339.00px;width:40px;text-align:center;transform:scaleX(0.97);transform-origin:center center;">U</div>
<div class="t n" style="top:886.75px;font-size:13.0px;line-height:13.0px;color:#ff0000;left:365.20px;width:40px;text-align:center;letter-spacing:0.3px;">--</div>
<div class="t n" style="top:886.75px;font-size:13.0px;line-height:13.0px;color:#ff0000;left:391.70px;width:40px;text-align:center;letter-spacing:0.3px;">--</div>
<div class="t " style="top:886.03px;font-size:13.5px;line-height:13.5px;color:#ff0000;left:419.00px;width:40px;text-align:center;transform:scaleX(0.97);transform-origin:center center;">U</div>
<div class="t " style="top:886.03px;font-size:13.5px;line-height:13.5px;color:#ff0000;left:445.50px;width:40px;text-align:center;transform:scaleX(0.97);transform-origin:center center;">U</div>
<div class="t " style="top:886.03px;font-size:13.5px;line-height:13.5px;color:#ff0000;left:472.00px;width:40px;text-align:center;transform:scaleX(0.97);transform-origin:center center;">U</div>
<div class="t " style="top:886.03px;font-size:13.5px;line-height:13.5px;color:#ff0000;left:498.50px;width:40px;text-align:center;transform:scaleX(0.97);transform-origin:center center;">U</div>
<div class="t " style="top:886.03px;font-size:13.5px;line-height:13.5px;color:#ff0000;left:525.00px;width:40px;text-align:center;transform:scaleX(0.97);transform-origin:center center;">U</div>
<div class="t n" style="top:886.75px;font-size:13.0px;line-height:13.0px;color:#ff0000;left:551.70px;width:40px;text-align:center;letter-spacing:0.3px;">--</div>
<div class="t n" style="top:886.75px;font-size:13.0px;line-height:13.0px;color:#ff0000;left:578.20px;width:40px;text-align:center;letter-spacing:0.3px;">--</div>
<div class="t " style="top:886.03px;font-size:13.5px;line-height:13.5px;color:#ff0000;left:605.00px;width:40px;text-align:center;transform:scaleX(0.97);transform-origin:center center;">U</div>
<div class="t " style="top:886.03px;font-size:13.5px;line-height:13.5px;color:#ff0000;left:631.50px;width:40px;text-align:center;transform:scaleX(0.97);transform-origin:center center;">U</div>
<div class="t " style="top:886.03px;font-size:13.5px;line-height:13.5px;color:#ff0000;left:658.00px;width:40px;text-align:center;transform:scaleX(0.97);transform-origin:center center;">U</div>
<div class="t " style="top:886.03px;font-size:13.5px;line-height:13.5px;color:#ff0000;left:685.00px;width:40px;text-align:center;transform:scaleX(0.97);transform-origin:center center;">U</div>
<div class="t " style="top:886.03px;font-size:13.5px;line-height:13.5px;color:#ff0000;left:711.50px;width:40px;text-align:center;transform:scaleX(0.97);transform-origin:center center;">U</div>
<div class="t n" style="top:886.75px;font-size:13.0px;line-height:13.0px;color:#ff0000;left:737.70px;width:40px;text-align:center;letter-spacing:0.3px;">--</div>
<div class="t n" style="top:886.75px;font-size:13.0px;line-height:13.0px;color:#ff0000;left:764.70px;width:40px;text-align:center;letter-spacing:0.3px;">--</div>
<div class="t " style="top:886.03px;font-size:13.5px;line-height:13.5px;color:#ff0000;left:791.50px;width:40px;text-align:center;transform:scaleX(0.97);transform-origin:center center;">U</div>
<div class="t n" style="top:886.75px;font-size:13.0px;line-height:13.0px;color:#ff0000;left:817.70px;width:40px;text-align:center;letter-spacing:0.3px;">--</div>
<div class="t n" style="top:886.75px;font-size:13.0px;line-height:13.0px;color:#ff0000;left:844.20px;width:40px;text-align:center;letter-spacing:0.3px;">--</div>
<div class="t " style="top:886.03px;font-size:13.5px;line-height:13.5px;left:871.00px;width:40px;text-align:center;transform:scaleX(0.97);transform-origin:center center;">ND</div>
<div class="t " style="top:886.03px;font-size:13.5px;line-height:13.5px;left:977.50px;width:40px;text-align:center;transform:scaleX(0.97);transform-origin:center center;">ND</div>
<div class="t n" style="top:915.75px;font-size:13.0px;line-height:13.0px;color:#ff0000;left:791.20px;width:40px;text-align:center;letter-spacing:0.3px;">--</div>
<div class="t b " style="top:908.47px;font-size:7.0px;line-height:7.0px;font-weight:bold;left:988.80px;width:20px;text-align:right;">T</div>
<div class="t s" style="top:937.29px;font-size:9.7px;line-height:9.7px;left:863.40px;width:40px;text-align:right;transform:scaleX(0.96);transform-origin:right center;">5.00</div>
<div class="t s" style="top:937.29px;font-size:9.7px;line-height:9.7px;left:969.40px;width:40px;text-align:right;transform:scaleX(0.96);transform-origin:right center;">5.00</div>
<div class="t s" style="top:887.99px;font-size:9.7px;line-height:9.7px;left:1034.00px;width:40px;text-align:right;transform:scaleX(0.96);transform-origin:right center;">0,40</div>
<div class="t s" style="top:887.99px;font-size:9.7px;line-height:9.7px;left:1074.00px;width:40px;text-align:right;transform:scaleX(0.96);transform-origin:right center;">136,80</div>
<div class="t s" style="top:887.99px;font-size:9.7px;line-height:9.7px;left:1114.00px;width:40px;text-align:right;transform:scaleX(0.96);transform-origin:right center;">153,60</div>
<div class="t s" style="top:887.99px;font-size:9.7px;line-height:9.7px;left:1154.00px;width:40px;text-align:right;transform:scaleX(0.96);transform-origin:right center;">16,80</div>
<div class="t s" style="top:887.99px;font-size:9.7px;line-height:9.7px;left:1194.00px;width:40px;text-align:right;transform:scaleX(0.96);transform-origin:right center;">31,90</div>
<div class="t s" style="top:887.99px;font-size:9.7px;line-height:9.7px;left:1234.00px;width:40px;text-align:right;transform:scaleX(0.96);transform-origin:right center;">121,60</div>
<div class="t s" style="top:915.89px;font-size:9.7px;line-height:9.7px;left:1034.00px;width:40px;text-align:right;transform:scaleX(0.96);transform-origin:right center;">0,40</div>
<div class="t s" style="top:915.89px;font-size:9.7px;line-height:9.7px;left:1074.00px;width:40px;text-align:right;transform:scaleX(0.96);transform-origin:right center;">136,80</div>
<div class="t s" style="top:915.89px;font-size:9.7px;line-height:9.7px;left:1114.00px;width:40px;text-align:right;transform:scaleX(0.96);transform-origin:right center;">148,00</div>
<div class="t s" style="top:915.89px;font-size:9.7px;line-height:9.7px;left:1154.00px;width:40px;text-align:right;transform:scaleX(0.96);transform-origin:right center;">11,20</div>
<div class="t s" style="top:915.89px;font-size:9.7px;line-height:9.7px;left:1194.00px;width:40px;text-align:right;transform:scaleX(0.96);transform-origin:right center;">26,30</div>
<div class="t s" style="top:915.89px;font-size:9.7px;line-height:9.7px;left:1234.00px;width:40px;text-align:right;transform:scaleX(0.96);transform-origin:right center;">114,00</div>
<div class="t b f" style="top:950.01px;font-size:6.6px;line-height:6.6px;font-weight:bold;left:9.00px;transform:scaleX(1.13);transform-origin:left center;">V 7.8.6.60</div>
<div class="t b f" style="top:950.01px;font-size:6.6px;line-height:6.6px;font-weight:bold;left:592.00px;transform:scaleX(1.085);transform-origin:left center;">bearbeitet von: SUPERVISOR, Supervisor</div>
<div class="t b f" style="top:950.01px;font-size:6.6px;line-height:6.6px;font-weight:bold;left:1017.00px;width:300px;text-align:right;transform:scaleX(1.055);transform-origin:right center;">Copyright Bit Factory Software GmbH, Steyr</div></div></body></html>
